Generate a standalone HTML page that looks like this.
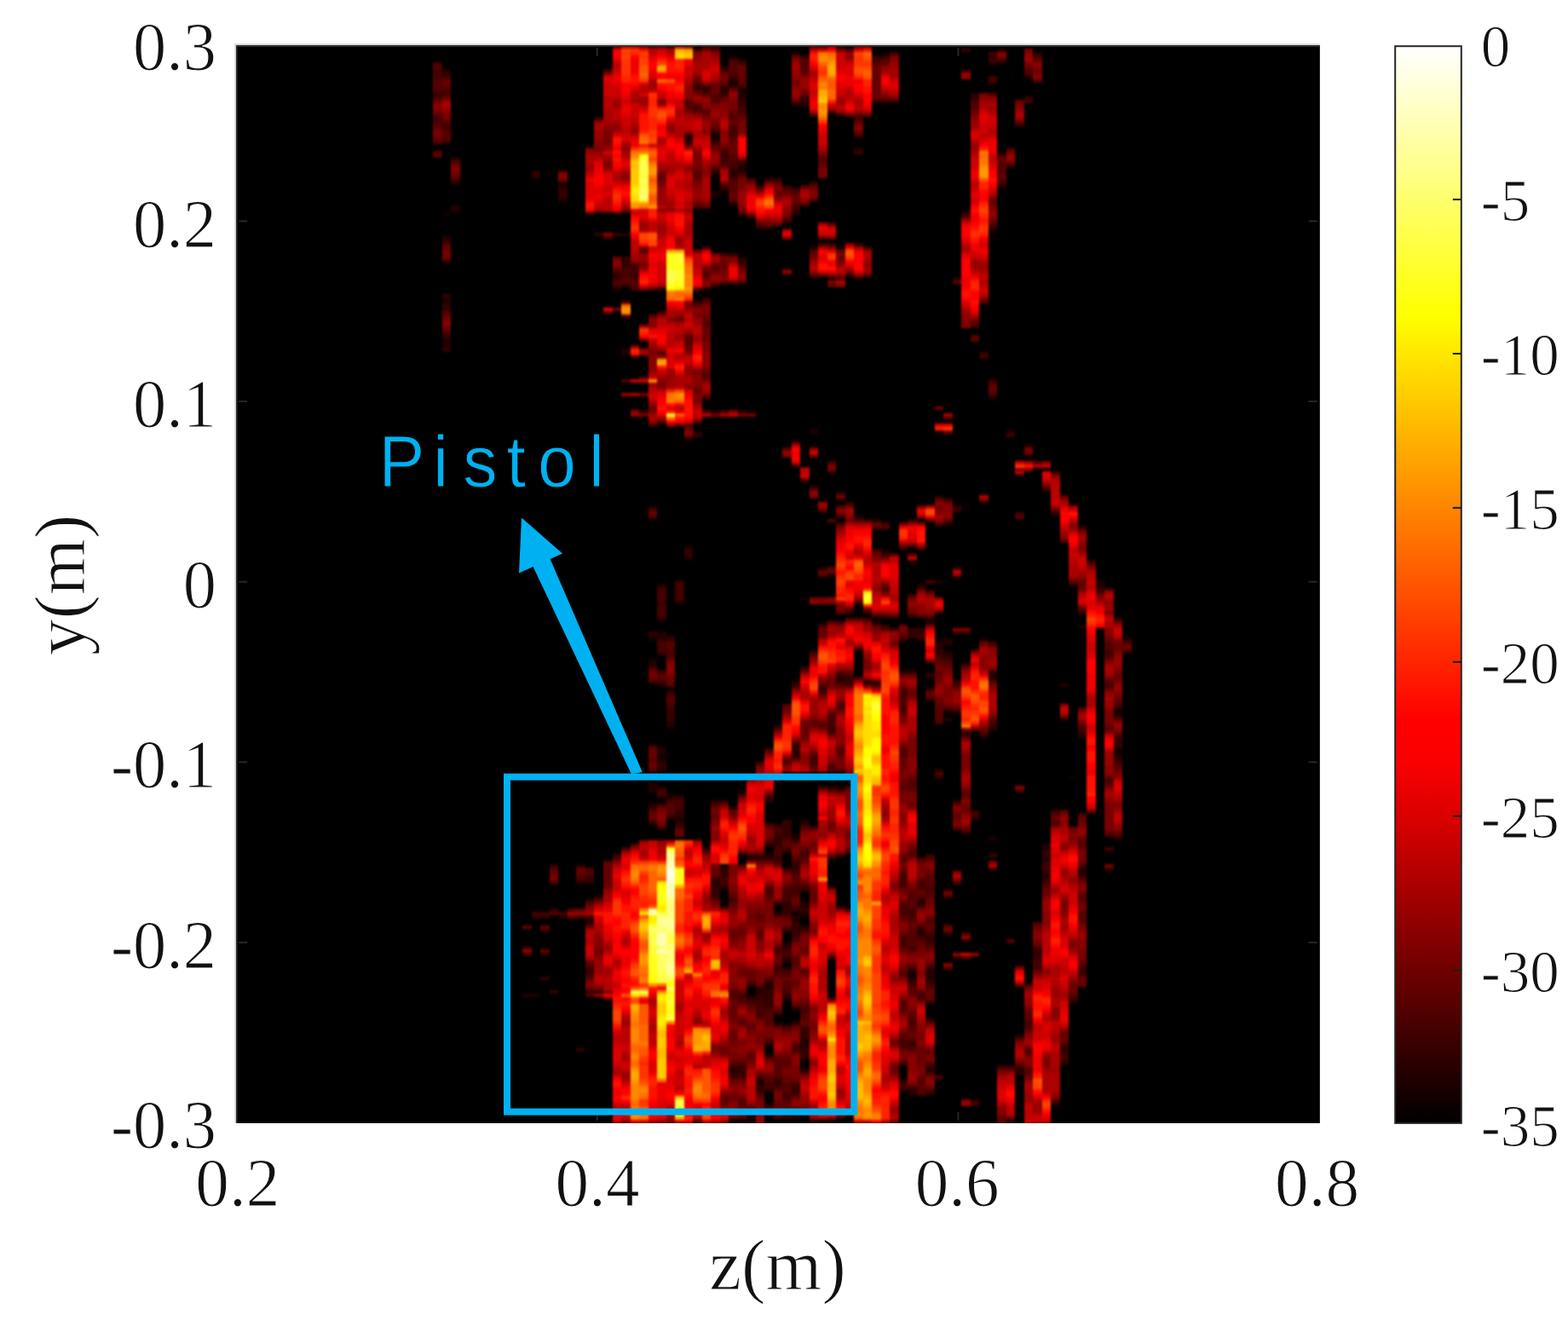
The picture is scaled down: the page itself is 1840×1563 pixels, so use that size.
<!DOCTYPE html>
<html lang="en"><head><meta charset="utf-8"><title>Pistol radar image</title>
<style>html,body{margin:0;padding:0;background:#fff;overflow:hidden}svg{display:block}</style></head>
<body>
<svg width="1840" height="1563" viewBox="0 0 1840 1563">
<rect width="1840" height="1563" fill="#fff"/>
<rect x="277.2" y="53.0" width="1271.3999999999999" height="1264.9" fill="#000"/>
<defs><filter id="hb" x="0" y="0" width="1" height="1" filterUnits="objectBoundingBox" color-interpolation-filters="sRGB"><feGaussianBlur stdDeviation="1.1 1.8"/></filter><clipPath id="pc"><rect x="277.2" y="53.0" width="1271.3999999999999" height="1264.9"/></clipPath></defs>
<g clip-path="url(#pc)"><g filter="url(#hb)"><rect x="257.2" y="33.0" width="1311.3999999999999" height="1304.9" fill="#000"/><g transform="translate(277.2 53.0) scale(10.50744 4.00285)" shape-rendering="crispEdges">
<path fill="#110000" d="M23 49h1v1h-1zM46 174h1v1h-1zM46 228h1v1h-1zM47 205h1v1h-1zM47 208h1v1h-1zM48 219h1v1h-1zM53 26h1v2h-1zM53 44h1v1h-1zM54 247h1v1h-1zM55 3h1v1h-1zM55 11h1v1h-1zM56 13h1v1h-1zM56 218h1v1h-1zM57 107h1v1h-1zM57 278h1v1h-1zM57 313h1v1h-1zM57 315h1v1h-1zM59 293h1v1h-1zM60 284h1v1h-1zM60 286h1v1h-1zM62 231h1v1h-1zM62 254h1v1h-1zM63 123h1v1h-1zM63 162h1v1h-1zM63 255h1v1h-1zM63 297h1v1h-1zM64 68h1v1h-1zM64 112h1v1h-1zM65 169h1v1h-1zM67 217h1v1h-1zM72 2h1v1h-1zM75 147h1v1h-1zM75 272h1v1h-1zM77 185h1v1h-1zM78 174h1v1h-1zM79 177h1v1h-1zM79 195h1v1h-1zM79 257h1v1h-1zM81 48h1v1h-1zM81 135h1v1h-1zM84 11h1v1h-1zM85 31h1v1h-1zM86 263h1v1h-1zM87 269h1v1h-1zM93 214h1v1h-1zM97 236h1v1h-1zM98 195h1v1h-1zM98 206h1v2h-1z"/>
<path fill="#220000" d="M23 7h1v1h-1zM23 56h1v1h-1zM23 74h1v2h-1zM23 86h1v3h-1zM24 40h1v1h-1zM24 47h1v2h-1zM32 278h1v1h-1zM33 278h1v1h-1zM34 266h1v1h-1zM36 40h1v2h-1zM36 45h1v1h-1zM36 255h1v1h-1zM38 240h1v1h-1zM38 245h1v1h-1zM39 245h1v1h-1zM39 250h1v1h-1zM39 256h1v1h-1zM40 249h1v1h-1zM42 49h1v1h-1zM42 71h1v1h-1zM43 55h1v1h-1zM43 89h1v2h-1zM46 135h1v1h-1zM46 173h1v1h-1zM46 180h1v2h-1zM46 216h1v3h-1zM46 222h1v1h-1zM47 158h1v1h-1zM47 168h1v1h-1zM47 172h1v2h-1zM47 178h1v1h-1zM47 187h1v1h-1zM47 206h1v2h-1zM47 209h1v1h-1zM47 212h1v1h-1zM47 217h1v1h-1zM47 220h1v1h-1zM48 173h1v1h-1zM48 198h1v2h-1zM48 220h1v1h-1zM48 226h1v1h-1zM49 163h1v1h-1zM49 226h1v2h-1zM50 26h1v2h-1zM50 115h1v1h-1zM50 147h1v1h-1zM50 150h1v1h-1zM51 113h1v1h-1zM52 71h1v1h-1zM52 235h1v1h-1zM53 37h1v1h-1zM53 43h1v1h-1zM53 107h1v1h-1zM53 221h1v1h-1zM53 245h1v2h-1zM54 6h1v1h-1zM54 13h1v1h-1zM54 42h1v1h-1zM54 221h1v1h-1zM54 252h1v1h-1zM55 10h1v1h-1zM55 37h1v1h-1zM55 46h1v1h-1zM55 223h1v1h-1zM55 300h1v1h-1zM56 4h1v1h-1zM56 14h1v2h-1zM56 35h1v2h-1zM56 62h1v1h-1zM56 107h1v1h-1zM57 238h1v1h-1zM57 312h1v1h-1zM57 314h1v1h-1zM58 277h1v1h-1zM58 303h1v2h-1zM59 221h1v1h-1zM59 234h1v1h-1zM59 237h1v1h-1zM59 275h1v2h-1zM59 306h1v1h-1zM59 310h1v1h-1zM60 199h1v1h-1zM60 228h1v1h-1zM60 254h1v1h-1zM61 65h1v1h-1zM61 67h1v1h-1zM61 236h1v1h-1zM61 263h1v1h-1zM61 268h1v1h-1zM61 270h1v1h-1zM61 279h1v1h-1zM61 314h1v1h-1zM62 2h1v1h-1zM62 17h1v1h-1zM62 49h1v1h-1zM62 186h1v1h-1zM62 207h1v1h-1zM62 232h1v1h-1zM62 255h1v2h-1zM62 282h1v1h-1zM62 286h1v1h-1zM62 314h1v1h-1zM63 17h1v1h-1zM63 227h1v1h-1zM63 251h1v2h-1zM63 254h1v1h-1zM63 258h1v1h-1zM63 291h1v3h-1zM63 300h1v1h-1zM64 59h1v1h-1zM64 113h1v1h-1zM64 129h1v1h-1zM64 177h1v1h-1zM64 315h1v1h-1zM65 153h1v1h-1zM66 68h1v1h-1zM66 125h1v1h-1zM66 155h1v1h-1zM66 217h1v1h-1zM66 238h1v1h-1zM67 0h1v1h-1zM67 59h1v1h-1zM67 133h1v1h-1zM67 185h1v1h-1zM67 252h1v1h-1zM67 314h1v1h-1zM68 166h1v1h-1zM69 30h1v1h-1zM69 68h1v1h-1zM69 138h1v1h-1zM70 186h1v1h-1zM71 139h1v1h-1zM71 169h1v1h-1zM72 148h1v1h-1zM74 183h1v1h-1zM74 303h1v1h-1zM74 306h1v1h-1zM75 151h1v1h-1zM75 183h1v1h-1zM75 271h1v1h-1zM75 273h1v1h-1zM75 306h1v2h-1zM76 158h1v1h-1zM76 174h1v1h-1zM76 251h1v1h-1zM76 259h1v2h-1zM77 168h1v2h-1zM77 188h1v1h-1zM77 271h1v3h-1zM77 285h1v1h-1zM77 300h1v1h-1zM77 307h1v1h-1zM78 113h1v1h-1zM78 132h1v1h-1zM78 157h1v1h-1zM78 175h1v2h-1zM78 212h1v1h-1zM79 140h1v1h-1zM79 174h1v2h-1zM79 178h1v1h-1zM79 197h1v1h-1zM79 247h1v1h-1zM79 260h1v1h-1zM80 68h1v1h-1zM80 195h1v1h-1zM80 221h1v1h-1zM80 267h1v1h-1zM81 172h1v1h-1zM81 201h1v1h-1zM81 262h1v1h-1zM82 14h1v1h-1zM83 174h1v1h-1zM83 202h1v1h-1zM84 5h1v1h-1zM84 54h1v1h-1zM84 103h1v1h-1zM84 184h1v2h-1zM84 200h1v1h-1zM84 232h1v1h-1zM85 1h1v1h-1zM85 41h1v1h-1zM86 113h1v1h-1zM86 315h1v1h-1zM87 290h1v1h-1zM87 300h1v2h-1zM88 9h1v1h-1zM88 117h1v1h-1zM88 120h1v1h-1zM89 2h1v1h-1zM90 234h1v2h-1zM90 238h1v1h-1zM90 243h1v1h-1zM91 137h1v1h-1zM91 310h1v1h-1zM92 187h1v1h-1zM92 197h1v1h-1zM92 298h1v1h-1zM93 158h1v1h-1zM93 280h1v1h-1zM94 170h1v1h-1zM94 202h1v1h-1zM94 241h1v2h-1zM96 157h1v2h-1zM98 194h1v1h-1zM98 196h1v1h-1zM98 208h1v1h-1zM98 232h1v1h-1z"/>
<path fill="#330000" d="M22 14h1v1h-1zM23 8h1v1h-1zM23 28h1v1h-1zM23 57h1v1h-1zM23 63h1v1h-1zM23 73h1v1h-1zM23 76h1v2h-1zM23 85h1v1h-1zM23 89h1v1h-1zM24 33h1v1h-1zM32 264h1v1h-1zM32 266h1v1h-1zM33 37h1v2h-1zM33 255h1v1h-1zM34 255h1v1h-1zM34 259h1v1h-1zM34 273h1v1h-1zM35 240h1v1h-1zM35 253h1v1h-1zM35 277h1v1h-1zM36 42h1v3h-1zM38 294h1v1h-1zM39 49h1v1h-1zM39 244h1v1h-1zM39 257h1v1h-1zM39 271h1v1h-1zM39 277h1v1h-1zM40 21h1v1h-1zM40 55h1v1h-1zM40 277h1v1h-1zM42 55h1v1h-1zM42 67h1v2h-1zM42 237h1v1h-1zM43 62h1v3h-1zM43 70h1v1h-1zM44 67h1v1h-1zM45 107h1v1h-1zM46 172h1v1h-1zM46 223h1v1h-1zM47 71h1v1h-1zM47 163h1v1h-1zM47 174h1v1h-1zM47 183h1v1h-1zM47 210h1v2h-1zM47 222h1v1h-1zM47 229h1v1h-1zM48 0h1v1h-1zM48 174h1v1h-1zM48 189h1v1h-1zM48 194h1v4h-1zM49 157h1v1h-1zM49 220h1v1h-1zM49 224h1v2h-1zM49 228h1v1h-1zM50 28h1v1h-1zM50 148h1v2h-1zM51 12h1v1h-1zM51 75h1v1h-1zM51 114h1v1h-1zM52 0h1v1h-1zM52 12h1v2h-1zM52 74h1v1h-1zM52 103h1v1h-1zM53 0h1v1h-1zM53 25h1v1h-1zM53 28h1v1h-1zM53 70h1v1h-1zM53 244h1v1h-1zM53 247h1v3h-1zM54 12h1v1h-1zM54 14h1v1h-1zM54 32h1v1h-1zM54 241h1v3h-1zM54 246h1v1h-1zM55 9h1v1h-1zM55 36h1v1h-1zM55 38h1v1h-1zM55 61h1v1h-1zM55 299h1v1h-1zM55 301h1v1h-1zM56 12h1v1h-1zM56 16h1v2h-1zM56 34h1v1h-1zM56 37h1v1h-1zM56 63h1v1h-1zM56 219h1v1h-1zM56 299h1v3h-1zM57 50h1v1h-1zM57 237h1v1h-1zM57 275h1v1h-1zM57 279h1v1h-1zM58 41h1v1h-1zM58 53h1v1h-1zM58 237h1v2h-1zM58 276h1v1h-1zM58 278h1v2h-1zM58 305h1v2h-1zM59 39h1v1h-1zM59 53h1v1h-1zM59 220h1v1h-1zM59 238h1v1h-1zM59 274h1v1h-1zM59 277h1v5h-1zM59 292h1v1h-1zM59 296h1v1h-1zM59 313h1v1h-1zM60 39h1v1h-1zM60 215h1v1h-1zM60 232h1v3h-1zM60 238h1v1h-1zM60 251h1v1h-1zM60 270h1v1h-1zM60 303h1v2h-1zM60 314h1v1h-1zM61 41h1v1h-1zM61 227h1v5h-1zM61 241h1v1h-1zM61 251h1v4h-1zM61 259h1v1h-1zM61 264h1v1h-1zM61 267h1v1h-1zM61 278h1v1h-1zM61 287h1v1h-1zM62 48h1v1h-1zM62 123h1v1h-1zM62 187h1v1h-1zM62 205h1v2h-1zM62 208h1v1h-1zM62 239h1v3h-1zM62 253h1v1h-1zM62 257h1v4h-1zM62 305h1v2h-1zM62 312h1v2h-1zM63 3h1v1h-1zM63 15h1v2h-1zM63 182h1v1h-1zM63 228h1v1h-1zM63 247h1v1h-1zM63 253h1v1h-1zM63 288h1v3h-1zM63 294h1v3h-1zM64 40h1v1h-1zM65 188h1v1h-1zM65 217h1v1h-1zM66 58h1v1h-1zM66 200h1v1h-1zM66 267h1v1h-1zM66 279h1v1h-1zM67 20h1v1h-1zM67 131h1v1h-1zM67 138h1v1h-1zM67 184h1v1h-1zM67 186h1v1h-1zM67 237h1v1h-1zM68 67h1v1h-1zM68 134h1v1h-1zM68 185h1v2h-1zM68 214h1v1h-1zM69 31h1v1h-1zM69 58h1v1h-1zM70 166h1v1h-1zM71 3h1v1h-1zM71 16h1v1h-1zM71 187h1v1h-1zM72 3h1v1h-1zM72 16h1v1h-1zM72 149h1v1h-1zM72 170h1v1h-1zM73 16h1v1h-1zM74 174h1v1h-1zM75 139h1v1h-1zM75 167h1v1h-1zM75 171h1v3h-1zM75 274h1v1h-1zM75 292h1v1h-1zM76 171h1v2h-1zM76 250h1v1h-1zM77 184h1v1h-1zM77 237h1v1h-1zM77 261h1v2h-1zM77 270h1v1h-1zM77 274h1v1h-1zM77 280h1v1h-1zM77 299h1v1h-1zM78 166h1v1h-1zM78 177h1v2h-1zM78 214h1v1h-1zM79 179h1v1h-1zM80 135h1v2h-1zM80 153h1v1h-1zM80 172h1v1h-1zM80 186h1v1h-1zM81 1h1v1h-1zM81 7h1v1h-1zM81 49h1v1h-1zM81 181h1v1h-1zM82 15h1v1h-1zM82 224h1v1h-1zM82 226h1v1h-1zM82 309h1v1h-1zM83 90h1v1h-1zM84 3h1v1h-1zM84 53h1v1h-1zM84 98h1v1h-1zM84 183h1v1h-1zM84 199h1v1h-1zM84 241h1v1h-1zM85 299h1v1h-1zM86 35h1v1h-1zM86 299h1v1h-1zM87 23h1v1h-1zM88 15h1v1h-1zM89 265h1v3h-1zM90 130h1v1h-1zM90 236h1v2h-1zM90 239h1v1h-1zM90 242h1v1h-1zM90 244h1v1h-1zM91 224h1v1h-1zM92 293h1v3h-1zM92 297h1v1h-1zM94 141h1v1h-1zM94 166h1v1h-1zM94 201h1v1h-1zM94 243h1v1h-1zM94 271h1v1h-1zM95 151h1v1h-1zM96 159h1v1h-1zM97 159h1v1h-1zM97 241h1v1h-1zM98 168h1v1h-1zM98 203h1v3h-1zM98 209h1v1h-1zM99 174h1v1h-1z"/>
<path fill="#440000" d="M22 5h1v1h-1zM22 7h1v3h-1zM22 13h1v1h-1zM22 15h1v1h-1zM22 21h1v2h-1zM23 9h1v1h-1zM23 13h1v2h-1zM23 23h1v2h-1zM23 84h1v1h-1zM24 39h1v1h-1zM33 254h1v1h-1zM34 254h1v1h-1zM35 245h1v1h-1zM36 254h1v1h-1zM38 244h1v1h-1zM38 255h1v1h-1zM39 241h1v1h-1zM39 243h1v1h-1zM39 255h1v1h-1zM39 270h1v1h-1zM39 272h1v1h-1zM41 7h1v1h-1zM41 56h1v1h-1zM42 66h1v1h-1zM42 70h1v1h-1zM43 65h1v3h-1zM43 235h1v1h-1zM44 64h1v3h-1zM44 68h1v1h-1zM44 71h1v1h-1zM44 91h1v1h-1zM45 97h1v1h-1zM46 0h1v1h-1zM46 111h1v1h-1zM46 138h1v1h-1zM46 182h1v1h-1zM46 186h1v1h-1zM46 205h1v1h-1zM46 227h1v1h-1zM47 78h1v1h-1zM47 159h1v4h-1zM47 164h1v4h-1zM47 175h1v3h-1zM47 186h1v1h-1zM47 218h1v2h-1zM48 177h1v2h-1zM48 190h1v1h-1zM48 193h1v1h-1zM48 221h1v1h-1zM48 225h1v1h-1zM49 158h1v5h-1zM49 221h1v3h-1zM50 16h1v1h-1zM51 1h1v1h-1zM51 11h1v1h-1zM51 18h1v1h-1zM51 47h1v1h-1zM51 315h1v1h-1zM52 59h1v1h-1zM52 107h1v1h-1zM53 36h1v1h-1zM53 222h1v1h-1zM54 7h1v1h-1zM54 31h1v1h-1zM54 33h1v2h-1zM54 41h1v1h-1zM54 61h1v1h-1zM54 107h1v1h-1zM54 244h1v2h-1zM55 4h1v1h-1zM55 12h1v1h-1zM55 24h1v3h-1zM55 34h1v2h-1zM55 39h1v1h-1zM55 250h1v1h-1zM55 302h1v1h-1zM56 5h1v1h-1zM56 18h1v2h-1zM56 49h1v1h-1zM56 64h1v1h-1zM56 278h1v2h-1zM56 302h1v1h-1zM56 314h1v1h-1zM57 39h1v1h-1zM57 280h1v1h-1zM58 210h1v1h-1zM58 280h1v5h-1zM58 302h1v1h-1zM58 307h1v1h-1zM59 206h1v1h-1zM59 228h1v1h-1zM59 233h1v1h-1zM59 247h1v2h-1zM59 282h1v1h-1zM59 304h1v2h-1zM59 311h1v1h-1zM60 229h1v3h-1zM60 235h1v3h-1zM60 239h1v1h-1zM60 265h1v1h-1zM60 271h1v1h-1zM60 283h1v1h-1zM60 287h1v1h-1zM60 305h1v1h-1zM61 51h1v1h-1zM61 232h1v1h-1zM61 235h1v1h-1zM61 247h1v4h-1zM61 265h1v2h-1zM61 271h1v1h-1zM61 277h1v1h-1zM61 307h1v2h-1zM61 313h1v1h-1zM62 42h1v1h-1zM62 47h1v1h-1zM62 116h1v1h-1zM62 204h1v1h-1zM62 233h1v1h-1zM62 242h1v1h-1zM62 246h1v3h-1zM62 252h1v1h-1zM62 261h1v1h-1zM62 293h1v2h-1zM62 304h1v1h-1zM62 307h1v1h-1zM63 236h1v2h-1zM63 246h1v1h-1zM63 259h1v1h-1zM63 282h1v2h-1zM63 313h1v1h-1zM64 45h1v1h-1zM64 208h1v3h-1zM64 229h1v1h-1zM65 58h1v1h-1zM65 170h1v1h-1zM65 189h1v1h-1zM66 122h1v1h-1zM66 196h1v4h-1zM66 201h1v1h-1zM66 211h1v1h-1zM67 68h1v1h-1zM67 140h1v1h-1zM67 193h1v1h-1zM67 218h1v1h-1zM68 184h1v1h-1zM68 187h1v1h-1zM68 217h1v1h-1zM68 236h1v1h-1zM68 253h1v1h-1zM69 21h1v1h-1zM69 26h1v1h-1zM69 163h1v1h-1zM69 185h1v1h-1zM70 59h1v1h-1zM70 139h1v1h-1zM70 168h1v1h-1zM70 187h1v1h-1zM71 4h1v1h-1zM71 167h1v1h-1zM71 186h1v1h-1zM72 140h1v1h-1zM72 159h1v1h-1zM72 167h1v1h-1zM73 2h1v1h-1zM73 171h1v1h-1zM74 147h1v1h-1zM74 189h1v3h-1zM74 193h1v2h-1zM74 243h1v4h-1zM74 252h1v3h-1zM74 261h1v3h-1zM74 291h1v3h-1zM74 298h1v1h-1zM74 304h1v2h-1zM75 161h1v1h-1zM75 253h1v3h-1zM75 264h1v1h-1zM75 270h1v1h-1zM75 275h1v1h-1zM75 286h1v1h-1zM75 293h1v1h-1zM75 305h1v1h-1zM76 159h1v1h-1zM76 173h1v1h-1zM76 238h1v1h-1zM76 245h1v2h-1zM76 252h1v1h-1zM76 258h1v1h-1zM76 261h1v1h-1zM76 278h1v2h-1zM76 307h1v1h-1zM77 139h1v1h-1zM77 157h1v1h-1zM77 191h1v1h-1zM77 247h1v1h-1zM77 260h1v1h-1zM77 263h1v1h-1zM77 275h1v1h-1zM77 301h1v1h-1zM77 306h1v1h-1zM78 179h1v1h-1zM78 198h1v1h-1zM79 109h1v1h-1zM79 133h1v1h-1zM79 180h1v1h-1zM79 194h1v1h-1zM79 249h1v1h-1zM80 187h1v1h-1zM80 245h1v1h-1zM81 202h1v1h-1zM81 230h1v1h-1zM81 260h1v1h-1zM81 267h1v1h-1zM82 16h1v1h-1zM82 82h1v1h-1zM82 225h1v1h-1zM82 310h1v1h-1zM83 75h1v1h-1zM83 91h1v1h-1zM83 201h1v1h-1zM84 2h1v1h-1zM84 4h1v1h-1zM84 9h1v2h-1zM84 102h1v1h-1zM84 175h1v1h-1zM84 198h1v1h-1zM84 237h1v1h-1zM85 4h1v1h-1zM85 32h1v1h-1zM85 40h1v1h-1zM86 30h1v1h-1zM86 114h1v1h-1zM87 137h1v1h-1zM87 218h1v1h-1zM87 299h1v1h-1zM88 8h1v1h-1zM88 16h1v1h-1zM88 275h1v1h-1zM88 286h1v2h-1zM89 3h1v1h-1zM89 264h1v1h-1zM89 268h1v3h-1zM90 240h1v2h-1zM90 245h1v1h-1zM91 125h1v1h-1zM91 309h1v1h-1zM92 296h1v1h-1zM93 279h1v1h-1zM94 200h1v1h-1zM94 225h1v1h-1zM94 240h1v1h-1zM94 270h1v1h-1zM94 272h1v1h-1zM96 160h1v1h-1zM97 177h1v2h-1zM97 187h1v1h-1zM97 215h1v1h-1zM97 231h1v1h-1zM97 235h1v1h-1zM98 193h1v1h-1zM98 202h1v1h-1zM98 210h1v1h-1zM99 177h1v1h-1z"/>
<path fill="#550000" d="M22 6h1v1h-1zM22 10h1v3h-1zM22 20h1v1h-1zM22 23h1v1h-1zM22 28h1v1h-1zM22 31h1v2h-1zM23 12h1v1h-1zM23 22h1v1h-1zM23 25h1v3h-1zM23 58h1v1h-1zM23 78h1v1h-1zM24 34h1v1h-1zM35 241h1v1h-1zM35 254h1v1h-1zM37 253h1v1h-1zM38 243h1v1h-1zM39 242h1v1h-1zM39 251h1v1h-1zM39 269h1v1h-1zM39 273h1v1h-1zM39 278h1v1h-1zM40 250h1v1h-1zM41 78h1v1h-1zM41 239h1v1h-1zM41 279h1v1h-1zM42 0h1v1h-1zM42 69h1v1h-1zM42 238h1v1h-1zM43 68h1v2h-1zM43 75h1v1h-1zM43 79h1v1h-1zM43 98h1v1h-1zM44 69h1v2h-1zM44 234h1v1h-1zM46 71h1v1h-1zM46 79h1v1h-1zM46 136h1v1h-1zM46 209h1v1h-1zM46 212h1v1h-1zM46 224h1v1h-1zM47 90h1v1h-1zM47 110h1v1h-1zM47 184h1v2h-1zM48 175h1v2h-1zM48 179h1v1h-1zM48 187h1v1h-1zM48 191h1v2h-1zM48 222h1v3h-1zM49 111h1v1h-1zM49 229h1v1h-1zM50 17h1v2h-1zM50 29h1v1h-1zM50 85h1v3h-1zM50 111h1v1h-1zM51 13h1v1h-1zM51 17h1v1h-1zM51 19h1v1h-1zM51 37h1v2h-1zM51 110h1v1h-1zM52 14h1v1h-1zM52 19h1v1h-1zM52 47h1v1h-1zM52 66h1v2h-1zM52 75h1v1h-1zM52 81h1v2h-1zM52 96h1v2h-1zM52 236h1v1h-1zM53 1h1v1h-1zM53 14h1v3h-1zM53 24h1v1h-1zM53 29h1v1h-1zM53 65h1v1h-1zM53 243h1v1h-1zM53 250h1v1h-1zM54 11h1v1h-1zM54 15h1v1h-1zM54 30h1v1h-1zM54 35h1v1h-1zM54 309h1v1h-1zM55 5h1v4h-1zM55 20h1v2h-1zM55 23h1v1h-1zM55 27h1v1h-1zM55 32h1v2h-1zM55 40h1v3h-1zM55 45h1v1h-1zM55 249h1v1h-1zM55 251h1v1h-1zM55 277h1v3h-1zM55 298h1v1h-1zM55 314h1v1h-1zM56 10h1v2h-1zM56 20h1v1h-1zM56 38h1v1h-1zM56 69h1v1h-1zM56 240h1v1h-1zM56 280h1v1h-1zM56 286h1v1h-1zM56 298h1v1h-1zM56 309h1v2h-1zM57 274h1v1h-1zM57 281h1v1h-1zM57 287h1v1h-1zM57 296h1v1h-1zM57 311h1v1h-1zM58 52h1v1h-1zM58 255h1v1h-1zM58 260h1v1h-1zM58 275h1v1h-1zM59 249h1v1h-1zM59 273h1v1h-1zM59 283h1v4h-1zM59 291h1v1h-1zM59 302h1v2h-1zM59 312h1v1h-1zM60 40h1v1h-1zM60 200h1v1h-1zM60 255h1v1h-1zM60 264h1v1h-1zM60 266h1v1h-1zM60 269h1v1h-1zM60 272h1v1h-1zM60 297h1v6h-1zM61 42h1v1h-1zM61 118h1v1h-1zM61 193h1v1h-1zM61 209h1v2h-1zM61 233h1v2h-1zM61 246h1v1h-1zM61 255h1v1h-1zM61 258h1v1h-1zM61 272h1v1h-1zM61 274h1v3h-1zM61 288h1v1h-1zM61 297h1v2h-1zM61 304h1v3h-1zM61 309h1v1h-1zM61 311h1v2h-1zM62 16h1v1h-1zM62 43h1v1h-1zM62 46h1v1h-1zM62 238h1v1h-1zM62 243h1v3h-1zM62 249h1v1h-1zM62 262h1v1h-1zM62 267h1v3h-1zM62 281h1v1h-1zM62 287h1v1h-1zM63 4h1v4h-1zM63 41h1v1h-1zM63 127h1v1h-1zM63 229h1v1h-1zM63 235h1v1h-1zM63 238h1v1h-1zM63 271h1v1h-1zM63 281h1v1h-1zM63 284h1v2h-1zM63 287h1v1h-1zM63 301h1v1h-1zM63 312h1v1h-1zM64 0h1v1h-1zM64 20h1v1h-1zM64 60h1v1h-1zM64 67h1v1h-1zM64 178h1v1h-1zM64 198h1v1h-1zM64 211h1v1h-1zM65 0h1v1h-1zM65 33h1v2h-1zM65 67h1v1h-1zM65 136h1v1h-1zM65 155h1v1h-1zM65 187h1v1h-1zM65 199h1v1h-1zM66 19h1v1h-1zM66 52h1v1h-1zM66 139h1v1h-1zM66 153h1v1h-1zM66 212h1v1h-1zM66 218h1v1h-1zM67 135h1v1h-1zM67 166h1v1h-1zM67 169h1v1h-1zM67 187h1v1h-1zM67 194h1v1h-1zM67 206h1v2h-1zM67 212h1v1h-1zM68 1h1v1h-1zM68 165h1v1h-1zM68 168h1v1h-1zM68 313h1v1h-1zM69 20h1v1h-1zM69 22h1v1h-1zM69 139h1v1h-1zM69 168h1v1h-1zM70 67h1v1h-1zM71 5h1v1h-1zM71 141h1v1h-1zM71 148h1v1h-1zM71 170h1v1h-1zM72 4h1v1h-1zM72 141h1v1h-1zM72 171h1v1h-1zM73 149h1v1h-1zM73 167h1v1h-1zM74 173h1v1h-1zM74 184h1v1h-1zM74 188h1v1h-1zM74 192h1v1h-1zM74 195h1v1h-1zM74 206h1v3h-1zM74 217h1v1h-1zM74 238h1v1h-1zM74 242h1v1h-1zM74 251h1v1h-1zM74 255h1v1h-1zM74 264h1v1h-1zM74 271h1v2h-1zM74 280h1v3h-1zM74 290h1v1h-1zM75 149h1v1h-1zM75 184h1v1h-1zM75 215h1v3h-1zM75 236h1v2h-1zM75 248h1v5h-1zM75 256h1v1h-1zM75 259h1v5h-1zM75 265h1v1h-1zM75 276h1v2h-1zM75 284h1v2h-1zM75 287h1v2h-1zM75 291h1v1h-1zM75 294h1v1h-1zM76 167h1v1h-1zM76 244h1v1h-1zM76 247h1v1h-1zM76 249h1v1h-1zM76 262h1v1h-1zM76 277h1v1h-1zM76 303h1v4h-1zM77 160h1v1h-1zM77 167h1v1h-1zM77 189h1v1h-1zM77 238h1v1h-1zM77 243h1v4h-1zM77 248h1v2h-1zM77 256h1v2h-1zM77 259h1v1h-1zM77 264h1v1h-1zM77 269h1v1h-1zM77 276h1v1h-1zM77 286h1v1h-1zM77 298h1v1h-1zM78 140h1v1h-1zM78 180h1v1h-1zM78 193h1v5h-1zM78 213h1v1h-1zM78 302h1v1h-1zM79 139h1v1h-1zM79 181h1v1h-1zM79 270h1v1h-1zM80 194h1v1h-1zM80 222h1v1h-1zM80 229h1v1h-1zM81 50h1v1h-1zM81 219h1v1h-1zM82 17h1v2h-1zM82 81h1v1h-1zM82 85h1v2h-1zM82 177h1v1h-1zM84 14h1v1h-1zM84 52h1v1h-1zM84 99h1v1h-1zM84 186h1v1h-1zM84 197h1v1h-1zM85 34h1v4h-1zM85 39h1v1h-1zM85 315h1v1h-1zM86 262h1v1h-1zM87 138h1v1h-1zM87 291h1v1h-1zM88 7h1v1h-1zM88 284h1v2h-1zM88 288h1v1h-1zM88 294h1v2h-1zM88 300h1v2h-1zM89 10h1v1h-1zM89 122h1v1h-1zM89 257h1v1h-1zM90 246h1v1h-1zM91 136h1v1h-1zM91 225h1v1h-1zM91 227h1v2h-1zM92 132h1v1h-1zM92 145h1v1h-1zM92 224h1v1h-1zM92 292h1v1h-1zM93 157h1v1h-1zM93 278h1v1h-1zM94 165h1v1h-1zM94 194h1v1h-1zM94 199h1v1h-1zM94 233h1v2h-1zM94 244h1v1h-1zM94 249h1v2h-1zM94 254h1v3h-1zM94 269h1v1h-1zM97 175h1v2h-1zM97 179h1v1h-1zM97 186h1v1h-1zM97 188h1v1h-1zM97 200h1v1h-1zM97 216h1v1h-1zM98 192h1v1h-1zM98 197h1v1h-1zM98 211h1v1h-1zM98 231h1v1h-1zM99 175h1v1h-1z"/>
<path fill="#660000" d="M22 16h1v1h-1zM22 24h1v1h-1zM22 27h1v1h-1zM23 10h1v2h-1zM23 15h1v1h-1zM23 59h1v1h-1zM23 62h1v1h-1zM23 79h1v1h-1zM23 83h1v1h-1zM24 38h1v1h-1zM32 258h1v1h-1zM34 258h1v1h-1zM34 265h1v1h-1zM35 242h1v1h-1zM37 255h1v1h-1zM38 241h1v2h-1zM38 253h1v1h-1zM39 258h1v1h-1zM39 276h1v1h-1zM40 265h1v1h-1zM41 240h1v7h-1zM42 62h1v1h-1zM42 65h1v1h-1zM45 59h1v2h-1zM45 86h1v1h-1zM46 106h1v1h-1zM46 137h1v1h-1zM46 183h1v1h-1zM46 185h1v1h-1zM46 206h1v3h-1zM46 210h1v2h-1zM46 225h1v2h-1zM47 0h1v1h-1zM47 38h1v2h-1zM47 223h1v1h-1zM47 228h1v1h-1zM48 185h1v2h-1zM49 80h1v1h-1zM49 230h1v2h-1zM50 88h1v2h-1zM50 112h1v1h-1zM51 10h1v1h-1zM51 36h1v1h-1zM51 39h1v1h-1zM51 46h1v1h-1zM51 71h1v1h-1zM51 76h1v1h-1zM51 101h1v1h-1zM52 20h1v1h-1zM52 68h1v1h-1zM52 79h1v2h-1zM52 83h1v4h-1zM52 95h1v1h-1zM53 11h1v3h-1zM53 23h1v1h-1zM53 30h1v1h-1zM53 35h1v1h-1zM53 64h1v1h-1zM53 66h1v1h-1zM53 223h1v1h-1zM53 225h1v2h-1zM53 240h1v3h-1zM54 8h1v1h-1zM54 10h1v1h-1zM54 40h1v1h-1zM54 63h1v3h-1zM54 69h1v1h-1zM54 222h1v1h-1zM54 294h1v2h-1zM54 308h1v1h-1zM54 310h1v1h-1zM55 19h1v1h-1zM55 22h1v1h-1zM55 28h1v4h-1zM55 43h1v2h-1zM55 69h1v1h-1zM55 224h1v2h-1zM55 248h1v1h-1zM55 252h1v1h-1zM55 259h1v3h-1zM55 276h1v1h-1zM55 280h1v6h-1zM55 289h1v3h-1zM55 297h1v1h-1zM55 303h1v1h-1zM55 308h1v1h-1zM56 6h1v4h-1zM56 21h1v1h-1zM56 33h1v1h-1zM56 65h1v1h-1zM56 220h1v1h-1zM56 236h1v1h-1zM56 259h1v2h-1zM56 271h1v2h-1zM56 277h1v1h-1zM56 285h1v1h-1zM56 297h1v1h-1zM56 303h1v1h-1zM56 308h1v1h-1zM56 311h1v3h-1zM57 255h1v1h-1zM57 271h1v3h-1zM57 282h1v1h-1zM57 288h1v1h-1zM57 295h1v1h-1zM57 297h1v1h-1zM58 42h1v1h-1zM58 239h1v1h-1zM58 254h1v1h-1zM58 256h1v1h-1zM58 259h1v1h-1zM58 261h1v1h-1zM58 285h1v1h-1zM58 301h1v1h-1zM58 308h1v1h-1zM59 52h1v1h-1zM59 219h1v1h-1zM59 229h1v1h-1zM59 232h1v1h-1zM59 239h1v1h-1zM59 246h1v1h-1zM59 250h1v1h-1zM59 287h1v1h-1zM59 297h1v1h-1zM60 43h1v1h-1zM60 52h1v1h-1zM60 240h1v1h-1zM60 267h1v2h-1zM60 273h1v1h-1zM60 282h1v1h-1zM60 296h1v1h-1zM60 306h1v1h-1zM60 309h1v5h-1zM61 43h1v1h-1zM61 50h1v1h-1zM61 194h1v1h-1zM61 242h1v1h-1zM61 256h1v1h-1zM61 273h1v1h-1zM61 296h1v1h-1zM61 299h1v1h-1zM61 302h1v2h-1zM61 310h1v1h-1zM62 3h1v1h-1zM62 44h1v2h-1zM62 188h1v1h-1zM62 209h1v1h-1zM62 234h1v1h-1zM62 237h1v1h-1zM62 250h1v2h-1zM62 270h1v1h-1zM62 274h1v2h-1zM62 292h1v1h-1zM62 295h1v1h-1zM62 303h1v1h-1zM62 308h1v1h-1zM62 311h1v1h-1zM63 8h1v1h-1zM63 14h1v1h-1zM63 46h1v1h-1zM63 183h1v1h-1zM63 198h1v5h-1zM63 239h1v1h-1zM63 245h1v1h-1zM63 260h1v1h-1zM63 264h1v2h-1zM63 272h1v1h-1zM63 280h1v1h-1zM63 286h1v1h-1zM64 41h1v1h-1zM64 61h1v1h-1zM64 130h1v1h-1zM64 199h1v1h-1zM64 207h1v1h-1zM64 234h1v1h-1zM64 247h1v4h-1zM65 32h1v1h-1zM65 35h1v1h-1zM65 56h1v1h-1zM65 154h1v1h-1zM65 171h1v3h-1zM65 190h1v1h-1zM65 198h1v1h-1zM66 70h1v1h-1zM66 154h1v1h-1zM66 169h1v1h-1zM66 186h1v2h-1zM66 195h1v1h-1zM66 210h1v1h-1zM66 228h1v1h-1zM66 237h1v1h-1zM67 60h1v1h-1zM67 62h1v1h-1zM67 137h1v1h-1zM67 183h1v1h-1zM67 192h1v1h-1zM67 205h1v1h-1zM67 208h1v1h-1zM68 20h1v1h-1zM68 139h1v1h-1zM68 183h1v1h-1zM68 213h1v1h-1zM68 218h1v1h-1zM68 231h1v1h-1zM68 235h1v1h-1zM69 0h1v1h-1zM69 25h1v1h-1zM69 176h1v1h-1zM70 20h1v1h-1zM70 165h1v1h-1zM71 6h1v10h-1zM71 140h1v1h-1zM71 149h1v1h-1zM72 5h1v1h-1zM72 15h1v1h-1zM72 150h1v1h-1zM72 158h1v1h-1zM72 160h1v1h-1zM73 175h1v1h-1zM73 292h1v1h-1zM73 299h1v2h-1zM73 315h1v1h-1zM74 140h1v1h-1zM74 170h1v1h-1zM74 172h1v1h-1zM74 196h1v1h-1zM74 205h1v1h-1zM74 209h1v3h-1zM74 215h1v2h-1zM74 218h1v1h-1zM74 237h1v1h-1zM74 239h1v1h-1zM74 241h1v1h-1zM74 247h1v1h-1zM74 256h1v1h-1zM74 260h1v1h-1zM74 265h1v1h-1zM74 270h1v1h-1zM74 283h1v1h-1zM74 289h1v1h-1zM74 294h1v1h-1zM74 297h1v1h-1zM75 166h1v1h-1zM75 189h1v2h-1zM75 214h1v1h-1zM75 218h1v1h-1zM75 222h1v1h-1zM75 235h1v1h-1zM75 247h1v1h-1zM75 257h1v2h-1zM75 269h1v1h-1zM75 278h1v1h-1zM75 283h1v1h-1zM75 289h1v2h-1zM76 147h1v1h-1zM76 239h1v1h-1zM76 248h1v1h-1zM76 257h1v1h-1zM76 263h1v2h-1zM76 294h1v5h-1zM76 302h1v1h-1zM77 180h1v1h-1zM77 190h1v1h-1zM77 242h1v1h-1zM77 250h1v2h-1zM77 255h1v1h-1zM77 258h1v1h-1zM77 265h1v1h-1zM77 277h1v3h-1zM77 294h1v2h-1zM77 305h1v1h-1zM78 133h1v1h-1zM78 181h1v1h-1zM78 183h1v3h-1zM78 191h1v2h-1zM79 182h1v1h-1zM79 193h1v1h-1zM79 258h1v2h-1zM80 69h1v1h-1zM80 188h1v1h-1zM80 225h1v2h-1zM81 182h1v1h-1zM81 218h1v1h-1zM81 220h1v1h-1zM81 223h1v2h-1zM81 229h1v1h-1zM82 19h1v1h-1zM82 200h1v1h-1zM83 175h1v1h-1zM83 200h1v1h-1zM84 45h1v2h-1zM84 51h1v1h-1zM84 100h1v2h-1zM85 33h1v1h-1zM85 38h1v1h-1zM85 300h1v1h-1zM85 314h1v1h-1zM86 34h1v1h-1zM86 300h1v1h-1zM86 314h1v1h-1zM87 16h1v1h-1zM87 22h1v1h-1zM87 275h1v1h-1zM87 298h1v1h-1zM88 6h1v1h-1zM88 282h1v2h-1zM88 299h1v1h-1zM89 4h1v1h-1zM89 7h1v1h-1zM89 258h1v1h-1zM89 263h1v1h-1zM89 271h1v1h-1zM90 129h1v1h-1zM90 247h1v2h-1zM91 226h1v1h-1zM92 289h1v3h-1zM93 229h1v1h-1zM93 275h1v3h-1zM94 142h1v1h-1zM94 157h1v3h-1zM94 226h1v2h-1zM94 232h1v1h-1zM94 235h1v1h-1zM94 239h1v1h-1zM94 248h1v1h-1zM94 251h1v1h-1zM94 253h1v1h-1zM94 257h1v1h-1zM94 268h1v1h-1zM94 273h1v3h-1zM95 152h1v1h-1zM95 224h1v1h-1zM97 174h1v1h-1zM97 199h1v1h-1zM97 214h1v1h-1zM97 230h1v1h-1zM98 175h1v2h-1zM98 184h1v2h-1zM98 191h1v1h-1zM98 201h1v1h-1zM98 212h1v1h-1zM98 230h1v1h-1z"/>
<path fill="#770000" d="M22 19h1v1h-1zM22 25h1v2h-1zM23 20h1v2h-1zM23 60h1v2h-1zM23 80h1v1h-1zM23 82h1v1h-1zM24 35h1v1h-1zM24 37h1v1h-1zM35 243h1v2h-1zM36 37h1v1h-1zM36 39h1v1h-1zM39 30h1v1h-1zM39 252h1v1h-1zM39 268h1v1h-1zM39 274h1v1h-1zM40 30h1v1h-1zM40 264h1v1h-1zM40 266h1v1h-1zM40 276h1v1h-1zM41 25h1v4h-1zM41 34h1v2h-1zM41 277h1v1h-1zM42 77h1v1h-1zM43 48h1v1h-1zM45 0h1v1h-1zM45 64h1v1h-1zM45 71h1v1h-1zM45 102h1v1h-1zM45 108h1v1h-1zM46 89h1v2h-1zM46 107h1v1h-1zM46 184h1v1h-1zM47 16h1v1h-1zM47 37h1v1h-1zM47 40h1v1h-1zM47 99h1v2h-1zM47 224h1v1h-1zM47 227h1v1h-1zM48 80h1v1h-1zM48 180h1v1h-1zM48 184h1v1h-1zM48 315h1v1h-1zM50 19h1v1h-1zM50 76h1v1h-1zM50 114h1v1h-1zM51 9h1v1h-1zM51 14h1v1h-1zM51 31h1v5h-1zM51 40h1v1h-1zM51 60h1v1h-1zM51 79h1v1h-1zM51 95h1v2h-1zM51 100h1v1h-1zM51 102h1v3h-1zM52 1h1v1h-1zM52 11h1v1h-1zM52 18h1v1h-1zM52 21h1v1h-1zM52 25h1v1h-1zM52 46h1v1h-1zM52 65h1v1h-1zM52 76h1v3h-1zM52 87h1v3h-1zM52 94h1v1h-1zM52 98h1v1h-1zM52 102h1v1h-1zM53 17h1v1h-1zM53 22h1v1h-1zM53 61h1v1h-1zM53 69h1v1h-1zM53 108h1v1h-1zM53 224h1v1h-1zM53 227h1v1h-1zM53 251h1v1h-1zM53 293h1v2h-1zM54 9h1v1h-1zM54 16h1v1h-1zM54 29h1v1h-1zM54 62h1v1h-1zM54 66h1v2h-1zM54 293h1v1h-1zM54 307h1v1h-1zM55 13h1v1h-1zM55 16h1v3h-1zM55 62h1v1h-1zM55 107h1v1h-1zM55 240h1v3h-1zM55 246h1v2h-1zM55 253h1v1h-1zM55 262h1v1h-1zM55 275h1v1h-1zM55 286h1v1h-1zM55 288h1v1h-1zM55 292h1v2h-1zM55 295h1v2h-1zM55 304h1v1h-1zM55 307h1v1h-1zM55 309h1v1h-1zM56 22h1v4h-1zM56 39h1v3h-1zM56 48h1v1h-1zM56 66h1v1h-1zM56 108h1v1h-1zM56 258h1v1h-1zM56 261h1v1h-1zM56 270h1v1h-1zM56 281h1v1h-1zM56 287h1v1h-1zM56 292h1v1h-1zM56 296h1v1h-1zM56 304h1v1h-1zM57 40h1v1h-1zM57 108h1v1h-1zM57 236h1v1h-1zM57 253h1v2h-1zM57 256h1v2h-1zM57 283h1v1h-1zM57 286h1v1h-1zM57 289h1v1h-1zM57 298h1v1h-1zM58 211h1v1h-1zM58 236h1v1h-1zM58 253h1v1h-1zM58 257h1v2h-1zM58 262h1v1h-1zM58 271h1v4h-1zM58 286h1v1h-1zM58 289h1v4h-1zM58 309h1v4h-1zM59 40h1v1h-1zM59 207h1v1h-1zM59 230h1v2h-1zM59 251h1v6h-1zM59 272h1v1h-1zM59 288h1v3h-1zM59 301h1v1h-1zM60 41h1v2h-1zM60 44h1v1h-1zM60 214h1v1h-1zM60 250h1v1h-1zM60 256h1v2h-1zM60 263h1v1h-1zM60 274h1v3h-1zM60 288h1v1h-1zM60 307h1v2h-1zM61 49h1v1h-1zM61 120h1v1h-1zM61 195h1v1h-1zM61 245h1v1h-1zM61 257h1v1h-1zM61 289h1v1h-1zM61 295h1v1h-1zM61 300h1v2h-1zM62 10h1v2h-1zM62 203h1v1h-1zM62 235h1v2h-1zM62 263h1v1h-1zM62 266h1v1h-1zM62 271h1v3h-1zM62 276h1v1h-1zM62 280h1v1h-1zM62 288h1v1h-1zM62 299h1v4h-1zM63 13h1v1h-1zM63 203h1v1h-1zM63 230h1v1h-1zM63 234h1v1h-1zM63 261h1v3h-1zM63 266h1v1h-1zM63 279h1v1h-1zM63 311h1v1h-1zM64 42h1v1h-1zM64 44h1v1h-1zM64 62h1v1h-1zM64 120h1v1h-1zM64 132h1v1h-1zM64 162h1v1h-1zM64 179h1v1h-1zM64 197h1v1h-1zM64 212h1v1h-1zM64 233h1v1h-1zM64 235h1v1h-1zM64 246h1v1h-1zM64 251h1v1h-1zM64 259h1v1h-1zM64 282h1v1h-1zM64 286h1v3h-1zM65 36h1v3h-1zM65 162h1v1h-1zM65 186h1v1h-1zM65 200h1v1h-1zM66 56h1v1h-1zM66 69h1v1h-1zM66 123h1v2h-1zM66 185h1v1h-1zM66 202h1v1h-1zM66 229h1v1h-1zM66 314h1v1h-1zM67 1h1v1h-1zM67 61h1v1h-1zM67 63h1v1h-1zM67 132h1v1h-1zM67 141h1v1h-1zM67 164h1v2h-1zM67 188h1v1h-1zM67 195h1v1h-1zM67 209h1v3h-1zM67 253h1v1h-1zM68 66h1v1h-1zM68 135h1v1h-1zM68 219h1v5h-1zM68 230h1v1h-1zM68 232h1v1h-1zM68 234h1v1h-1zM69 23h1v1h-1zM70 0h1v1h-1zM70 169h1v1h-1zM70 180h1v3h-1zM71 150h1v1h-1zM71 171h1v1h-1zM73 3h1v1h-1zM73 15h1v1h-1zM73 246h1v1h-1zM73 291h1v1h-1zM73 301h1v1h-1zM74 171h1v1h-1zM74 187h1v1h-1zM74 197h1v1h-1zM74 212h1v3h-1zM74 219h1v3h-1zM74 240h1v1h-1zM74 248h1v1h-1zM74 250h1v1h-1zM74 259h1v1h-1zM74 269h1v1h-1zM74 273h1v1h-1zM74 279h1v1h-1zM74 295h1v2h-1zM75 146h1v1h-1zM75 162h1v1h-1zM75 165h1v1h-1zM75 188h1v1h-1zM75 203h1v6h-1zM75 213h1v1h-1zM75 219h1v3h-1zM75 223h1v1h-1zM75 234h1v1h-1zM75 238h1v1h-1zM75 246h1v1h-1zM75 266h1v1h-1zM75 282h1v1h-1zM75 295h1v1h-1zM75 304h1v1h-1zM76 135h1v1h-1zM76 138h1v1h-1zM76 240h1v4h-1zM76 253h1v1h-1zM76 265h1v2h-1zM76 280h1v1h-1zM76 289h1v3h-1zM76 293h1v1h-1zM76 299h1v3h-1zM77 170h1v1h-1zM77 239h1v1h-1zM77 241h1v1h-1zM77 252h1v1h-1zM77 268h1v1h-1zM77 296h1v2h-1zM77 302h1v1h-1zM78 106h1v1h-1zM78 135h1v2h-1zM78 182h1v1h-1zM78 186h1v1h-1zM79 113h1v1h-1zM79 134h1v1h-1zM79 183h1v1h-1zM79 188h1v3h-1zM79 248h1v1h-1zM80 193h1v1h-1zM80 224h1v1h-1zM80 227h1v2h-1zM81 81h1v1h-1zM81 203h1v1h-1zM81 208h1v4h-1zM81 222h1v1h-1zM82 20h1v1h-1zM82 80h1v1h-1zM83 14h1v1h-1zM83 74h1v1h-1zM83 133h1v1h-1zM84 47h1v1h-1zM84 176h1v1h-1zM84 187h1v1h-1zM84 196h1v1h-1zM84 239h1v1h-1zM85 3h1v1h-1zM85 313h1v1h-1zM86 31h1v1h-1zM87 17h1v1h-1zM87 270h1v1h-1zM88 1h1v1h-1zM88 5h1v1h-1zM88 118h1v2h-1zM88 276h1v1h-1zM88 289h1v1h-1zM88 293h1v1h-1zM88 296h1v1h-1zM88 302h1v1h-1zM89 8h1v1h-1zM89 259h1v1h-1zM89 262h1v1h-1zM90 249h1v1h-1zM90 297h1v2h-1zM91 308h1v1h-1zM92 225h1v1h-1zM92 251h1v3h-1zM93 230h1v1h-1zM93 232h1v1h-1zM93 263h1v1h-1zM93 274h1v1h-1zM94 147h1v1h-1zM94 156h1v1h-1zM94 198h1v1h-1zM94 228h1v1h-1zM94 236h1v3h-1zM94 245h1v1h-1zM94 252h1v1h-1zM94 258h1v1h-1zM94 265h1v3h-1zM96 161h1v1h-1zM97 166h1v1h-1zM97 173h1v1h-1zM97 180h1v1h-1zM97 185h1v1h-1zM97 195h1v4h-1zM97 217h1v1h-1zM97 222h1v8h-1zM97 240h1v1h-1zM98 169h1v1h-1zM98 177h1v1h-1zM98 183h1v1h-1zM98 186h1v1h-1zM98 190h1v1h-1zM98 213h1v1h-1zM98 222h1v1h-1zM99 176h1v1h-1z"/>
<path fill="#880000" d="M22 17h1v2h-1zM23 19h1v1h-1zM23 81h1v1h-1zM24 36h1v1h-1zM36 38h1v1h-1zM39 253h1v1h-1zM39 275h1v1h-1zM40 22h1v1h-1zM40 28h1v2h-1zM40 251h1v1h-1zM40 261h1v3h-1zM40 267h1v1h-1zM41 8h1v1h-1zM41 24h1v1h-1zM41 29h1v1h-1zM41 55h1v1h-1zM41 247h1v1h-1zM42 24h1v1h-1zM42 63h1v2h-1zM42 239h1v1h-1zM43 30h1v1h-1zM43 38h1v1h-1zM43 315h1v1h-1zM44 63h1v1h-1zM44 88h1v1h-1zM44 107h1v1h-1zM45 61h1v1h-1zM45 63h1v1h-1zM45 65h1v1h-1zM46 80h1v3h-1zM46 91h1v5h-1zM46 105h1v1h-1zM46 110h1v1h-1zM47 41h1v1h-1zM47 48h1v1h-1zM47 79h1v1h-1zM47 89h1v1h-1zM47 91h1v1h-1zM47 98h1v1h-1zM47 225h1v2h-1zM48 24h1v1h-1zM48 48h1v1h-1zM48 111h1v1h-1zM48 181h1v3h-1zM49 79h1v1h-1zM50 0h1v1h-1zM50 12h1v4h-1zM50 25h1v1h-1zM50 36h1v1h-1zM50 48h1v1h-1zM50 75h1v1h-1zM50 77h1v1h-1zM50 84h1v1h-1zM50 90h1v1h-1zM50 95h1v2h-1zM50 100h1v1h-1zM50 113h1v1h-1zM51 2h1v2h-1zM51 16h1v1h-1zM51 20h1v1h-1zM51 41h1v2h-1zM51 45h1v1h-1zM51 77h1v2h-1zM51 97h1v3h-1zM51 285h1v2h-1zM52 15h1v1h-1zM52 17h1v1h-1zM52 36h1v2h-1zM52 69h1v2h-1zM52 90h1v4h-1zM52 237h1v1h-1zM52 250h1v1h-1zM53 2h1v1h-1zM53 18h1v1h-1zM53 21h1v1h-1zM53 31h1v1h-1zM53 34h1v1h-1zM53 67h1v1h-1zM53 228h1v1h-1zM53 230h1v3h-1zM53 252h1v1h-1zM53 295h1v1h-1zM54 17h1v4h-1zM54 25h1v2h-1zM54 28h1v1h-1zM54 68h1v1h-1zM54 253h1v1h-1zM54 292h1v1h-1zM54 311h1v1h-1zM54 315h1v1h-1zM55 15h1v1h-1zM55 63h1v1h-1zM55 226h1v1h-1zM55 243h1v3h-1zM55 254h1v1h-1zM55 258h1v1h-1zM55 263h1v1h-1zM55 269h1v6h-1zM55 287h1v1h-1zM55 294h1v1h-1zM55 305h1v2h-1zM55 310h1v4h-1zM56 42h1v1h-1zM56 47h1v1h-1zM56 67h1v2h-1zM56 241h1v1h-1zM56 257h1v1h-1zM56 262h1v1h-1zM56 269h1v1h-1zM56 273h1v1h-1zM56 276h1v1h-1zM56 284h1v1h-1zM56 291h1v1h-1zM56 293h1v3h-1zM56 305h1v1h-1zM56 307h1v1h-1zM57 49h1v1h-1zM57 215h1v1h-1zM57 251h1v2h-1zM57 258h1v1h-1zM57 270h1v1h-1zM57 284h1v2h-1zM57 290h1v3h-1zM57 294h1v1h-1zM57 299h1v1h-1zM57 310h1v1h-1zM58 51h1v1h-1zM58 212h1v1h-1zM58 240h1v1h-1zM58 251h1v2h-1zM58 263h1v2h-1zM58 287h1v2h-1zM58 293h1v1h-1zM58 313h1v1h-1zM58 315h1v1h-1zM59 51h1v1h-1zM59 245h1v1h-1zM59 257h1v1h-1zM59 271h1v1h-1zM59 298h1v1h-1zM60 201h1v1h-1zM60 258h1v1h-1zM60 277h1v1h-1zM60 281h1v1h-1zM60 289h1v2h-1zM60 295h1v1h-1zM61 44h1v1h-1zM61 48h1v1h-1zM61 56h1v1h-1zM61 208h1v1h-1zM61 211h1v1h-1zM61 243h1v2h-1zM61 290h1v1h-1zM61 294h1v1h-1zM62 4h1v1h-1zM62 9h1v1h-1zM62 12h1v1h-1zM62 15h1v1h-1zM62 264h1v2h-1zM62 277h1v1h-1zM62 279h1v1h-1zM62 289h1v3h-1zM62 296h1v3h-1zM62 309h1v1h-1zM63 9h1v1h-1zM63 45h1v1h-1zM63 208h1v3h-1zM63 231h1v1h-1zM63 233h1v1h-1zM63 240h1v1h-1zM63 244h1v1h-1zM63 270h1v1h-1zM63 273h1v1h-1zM63 277h1v2h-1zM63 302h1v1h-1zM63 310h1v1h-1zM64 43h1v1h-1zM64 118h1v1h-1zM64 196h1v1h-1zM64 200h1v1h-1zM64 206h1v1h-1zM64 230h1v1h-1zM64 232h1v1h-1zM64 236h1v1h-1zM64 257h1v2h-1zM64 260h1v1h-1zM64 283h1v3h-1zM64 289h1v2h-1zM64 298h1v1h-1zM64 314h1v1h-1zM65 31h1v1h-1zM65 163h1v1h-1zM65 185h1v1h-1zM65 191h1v1h-1zM65 197h1v1h-1zM65 218h1v1h-1zM65 231h1v1h-1zM66 59h1v1h-1zM66 67h1v1h-1zM66 162h1v2h-1zM66 184h1v1h-1zM66 188h1v1h-1zM66 209h1v1h-1zM66 227h1v1h-1zM66 230h1v1h-1zM66 247h1v1h-1zM66 266h1v1h-1zM67 64h1v1h-1zM67 67h1v1h-1zM67 70h1v1h-1zM67 136h1v1h-1zM67 170h1v1h-1zM67 191h1v1h-1zM67 200h1v5h-1zM67 219h1v1h-1zM67 236h1v1h-1zM68 3h1v1h-1zM68 58h1v1h-1zM68 138h1v1h-1zM68 188h1v1h-1zM68 212h1v1h-1zM68 224h1v1h-1zM68 233h1v1h-1zM69 24h1v1h-1zM69 67h1v1h-1zM70 64h1v1h-1zM70 179h1v1h-1zM70 185h1v1h-1zM71 159h1v1h-1zM71 166h1v1h-1zM71 172h1v1h-1zM71 188h1v1h-1zM72 6h1v1h-1zM72 14h1v1h-1zM72 166h1v1h-1zM72 225h1v1h-1zM73 4h1v1h-1zM73 173h1v2h-1zM73 245h1v1h-1zM73 247h1v1h-1zM73 273h1v1h-1zM73 293h1v1h-1zM73 298h1v1h-1zM74 146h1v1h-1zM74 185h1v1h-1zM74 198h1v1h-1zM74 204h1v1h-1zM74 222h1v1h-1zM74 225h1v3h-1zM74 236h1v1h-1zM74 249h1v1h-1zM74 257h1v2h-1zM74 266h1v1h-1zM74 284h1v1h-1zM74 288h1v1h-1zM75 163h1v2h-1zM75 185h1v1h-1zM75 191h1v1h-1zM75 202h1v1h-1zM75 209h1v4h-1zM75 245h1v1h-1zM75 267h1v2h-1zM75 279h1v3h-1zM75 296h1v5h-1zM76 140h1v1h-1zM76 160h1v1h-1zM76 164h1v3h-1zM76 256h1v1h-1zM76 267h1v1h-1zM76 271h1v2h-1zM76 276h1v1h-1zM76 287h1v2h-1zM76 292h1v1h-1zM77 161h1v1h-1zM77 166h1v1h-1zM77 240h1v1h-1zM77 253h1v2h-1zM77 266h1v2h-1zM77 287h1v1h-1zM77 303h1v2h-1zM78 134h1v1h-1zM78 137h1v1h-1zM78 139h1v1h-1zM78 187h1v1h-1zM78 190h1v1h-1zM79 135h1v4h-1zM79 184h1v1h-1zM79 187h1v1h-1zM79 191h1v2h-1zM79 269h1v1h-1zM80 155h1v1h-1zM80 171h1v1h-1zM80 189h1v1h-1zM80 223h1v1h-1zM80 242h1v1h-1zM80 244h1v1h-1zM81 79h1v2h-1zM81 82h1v1h-1zM81 171h1v1h-1zM81 200h1v1h-1zM81 207h1v1h-1zM81 212h1v1h-1zM81 217h1v1h-1zM81 221h1v1h-1zM81 225h1v1h-1zM81 228h1v1h-1zM81 309h1v1h-1zM82 21h1v1h-1zM83 15h1v1h-1zM83 179h1v4h-1zM83 199h1v1h-1zM84 15h1v1h-1zM84 44h1v1h-1zM84 48h1v1h-1zM84 50h1v1h-1zM84 177h1v2h-1zM84 182h1v1h-1zM84 188h1v1h-1zM85 2h1v1h-1zM85 301h1v1h-1zM85 311h1v2h-1zM87 18h1v1h-1zM87 124h1v1h-1zM87 217h1v1h-1zM87 292h1v1h-1zM87 297h1v1h-1zM88 2h1v1h-1zM88 124h1v1h-1zM88 281h1v1h-1zM88 290h1v1h-1zM88 297h1v2h-1zM88 303h1v1h-1zM89 5h1v2h-1zM89 9h1v1h-1zM89 260h1v2h-1zM89 272h1v1h-1zM90 122h1v1h-1zM90 250h1v1h-1zM90 254h1v4h-1zM90 271h1v1h-1zM90 296h1v1h-1zM90 299h1v1h-1zM91 126h1v1h-1zM91 282h1v3h-1zM92 144h1v1h-1zM92 196h1v1h-1zM92 227h1v2h-1zM92 234h1v2h-1zM92 250h1v1h-1zM92 254h1v1h-1zM92 288h1v1h-1zM93 140h1v2h-1zM93 156h1v1h-1zM93 231h1v1h-1zM93 233h1v1h-1zM93 244h1v1h-1zM93 262h1v1h-1zM93 264h1v1h-1zM94 146h1v1h-1zM94 148h1v1h-1zM94 164h1v1h-1zM94 195h1v1h-1zM94 229h1v1h-1zM94 231h1v1h-1zM94 246h1v2h-1zM94 259h1v1h-1zM94 262h1v3h-1zM95 153h1v1h-1zM96 162h1v1h-1zM97 163h1v1h-1zM97 171h1v2h-1zM97 189h1v1h-1zM97 194h1v1h-1zM97 201h1v1h-1zM97 211h1v3h-1zM97 221h1v1h-1zM98 174h1v1h-1zM98 178h1v1h-1zM98 182h1v1h-1zM98 187h1v1h-1zM98 189h1v1h-1zM98 198h1v1h-1zM98 200h1v1h-1zM98 214h1v1h-1zM98 223h1v1h-1zM98 229h1v1h-1z"/>
<path fill="#990000" d="M23 16h1v1h-1zM23 18h1v1h-1zM32 265h1v1h-1zM37 254h1v1h-1zM38 254h1v1h-1zM39 31h1v1h-1zM39 35h1v2h-1zM40 25h1v3h-1zM40 31h1v2h-1zM40 48h1v1h-1zM40 260h1v1h-1zM40 268h1v4h-1zM40 275h1v1h-1zM40 278h1v1h-1zM41 23h1v1h-1zM41 30h1v1h-1zM41 33h1v1h-1zM41 36h1v1h-1zM41 248h1v1h-1zM41 264h1v1h-1zM41 271h1v1h-1zM42 16h1v2h-1zM42 23h1v1h-1zM43 29h1v1h-1zM43 37h1v1h-1zM43 39h1v1h-1zM43 47h1v1h-1zM43 102h1v1h-1zM43 236h1v1h-1zM43 286h1v1h-1zM43 301h1v2h-1zM44 16h1v1h-1zM44 24h1v2h-1zM44 62h1v1h-1zM44 108h1v1h-1zM44 235h1v1h-1zM45 15h1v2h-1zM45 52h1v2h-1zM45 62h1v1h-1zM45 82h1v1h-1zM45 89h1v1h-1zM45 233h1v1h-1zM46 11h1v2h-1zM46 88h1v1h-1zM46 99h1v1h-1zM46 108h1v1h-1zM47 17h1v1h-1zM47 36h1v1h-1zM47 42h1v5h-1zM47 53h1v2h-1zM47 97h1v1h-1zM47 109h1v1h-1zM47 233h1v2h-1zM47 315h1v1h-1zM48 23h1v1h-1zM48 25h1v1h-1zM48 36h1v1h-1zM48 46h1v1h-1zM48 95h1v5h-1zM48 312h1v3h-1zM49 57h1v2h-1zM49 78h1v1h-1zM49 81h1v1h-1zM49 85h1v1h-1zM50 11h1v1h-1zM50 20h1v1h-1zM50 35h1v1h-1zM50 94h1v1h-1zM50 99h1v1h-1zM51 4h1v1h-1zM51 8h1v1h-1zM51 15h1v1h-1zM51 30h1v1h-1zM51 43h1v2h-1zM51 80h1v2h-1zM51 85h1v2h-1zM51 105h1v1h-1zM52 16h1v1h-1zM52 22h1v3h-1zM52 35h1v1h-1zM52 38h1v1h-1zM52 45h1v1h-1zM52 99h1v1h-1zM52 101h1v1h-1zM52 238h1v1h-1zM52 249h1v1h-1zM52 251h1v1h-1zM52 260h1v2h-1zM53 3h1v1h-1zM53 10h1v1h-1zM53 19h1v2h-1zM53 32h1v2h-1zM53 63h1v1h-1zM53 68h1v1h-1zM53 229h1v1h-1zM54 21h1v1h-1zM54 27h1v1h-1zM54 36h1v1h-1zM54 223h1v1h-1zM54 283h1v1h-1zM54 296h1v1h-1zM54 306h1v1h-1zM55 14h1v1h-1zM55 255h1v3h-1zM55 264h1v1h-1zM55 268h1v1h-1zM56 43h1v4h-1zM56 221h1v1h-1zM56 250h1v3h-1zM56 263h1v2h-1zM56 274h1v2h-1zM56 282h1v1h-1zM56 288h1v1h-1zM56 306h1v1h-1zM57 41h1v1h-1zM57 232h1v2h-1zM57 239h1v1h-1zM57 259h1v1h-1zM57 293h1v1h-1zM58 213h1v1h-1zM58 250h1v1h-1zM58 265h1v1h-1zM58 270h1v1h-1zM58 294h1v1h-1zM58 300h1v1h-1zM58 314h1v1h-1zM59 258h1v1h-1zM59 270h1v1h-1zM59 299h1v2h-1zM60 45h1v1h-1zM60 51h1v1h-1zM60 247h1v3h-1zM60 259h1v1h-1zM60 262h1v1h-1zM60 278h1v3h-1zM60 291h1v1h-1zM61 47h1v1h-1zM61 66h1v1h-1zM61 119h1v1h-1zM61 196h1v1h-1zM61 212h1v1h-1zM61 291h1v3h-1zM62 5h1v1h-1zM62 7h1v2h-1zM62 13h1v2h-1zM62 189h1v1h-1zM62 278h1v1h-1zM62 310h1v1h-1zM63 10h1v3h-1zM63 42h1v1h-1zM63 197h1v1h-1zM63 204h1v1h-1zM63 207h1v1h-1zM63 232h1v1h-1zM63 241h1v1h-1zM63 274h1v3h-1zM63 308h1v2h-1zM64 63h1v1h-1zM64 66h1v1h-1zM64 131h1v1h-1zM64 163h1v1h-1zM64 180h1v1h-1zM64 191h1v5h-1zM64 231h1v1h-1zM64 245h1v1h-1zM64 252h1v1h-1zM64 281h1v1h-1zM64 291h1v1h-1zM64 297h1v1h-1zM64 311h1v2h-1zM65 52h1v1h-1zM65 134h1v2h-1zM65 229h1v2h-1zM65 314h1v1h-1zM66 0h1v1h-1zM66 170h1v1h-1zM66 172h1v1h-1zM66 194h1v1h-1zM66 208h1v1h-1zM66 219h1v1h-1zM66 224h1v3h-1zM66 252h1v3h-1zM67 16h1v1h-1zM67 19h1v1h-1zM67 142h1v1h-1zM67 171h1v1h-1zM67 182h1v1h-1zM67 189h1v2h-1zM67 196h1v1h-1zM67 199h1v1h-1zM67 229h1v3h-1zM67 306h1v2h-1zM67 313h1v1h-1zM68 2h1v1h-1zM68 137h1v1h-1zM68 175h1v1h-1zM68 182h1v1h-1zM68 229h1v1h-1zM68 271h1v1h-1zM69 19h1v1h-1zM69 59h1v1h-1zM69 140h1v1h-1zM69 162h1v1h-1zM69 186h1v1h-1zM70 60h1v1h-1zM70 63h1v1h-1zM70 65h1v2h-1zM70 140h1v1h-1zM70 170h1v2h-1zM70 178h1v1h-1zM70 183h1v1h-1zM71 151h1v1h-1zM71 158h1v1h-1zM71 173h1v2h-1zM72 7h1v1h-1zM72 157h1v1h-1zM72 161h1v1h-1zM72 223h1v2h-1zM72 226h1v1h-1zM73 5h1v2h-1zM73 8h1v1h-1zM73 166h1v1h-1zM73 172h1v1h-1zM73 176h1v1h-1zM73 272h1v1h-1zM73 274h1v1h-1zM73 302h1v1h-1zM73 311h1v2h-1zM74 186h1v1h-1zM74 223h1v2h-1zM74 228h1v1h-1zM74 234h1v2h-1zM74 267h1v2h-1zM74 274h1v1h-1zM74 278h1v1h-1zM74 285h1v1h-1zM75 140h1v1h-1zM75 187h1v1h-1zM75 201h1v1h-1zM75 233h1v1h-1zM75 301h1v3h-1zM76 254h1v2h-1zM76 268h1v3h-1zM76 273h1v1h-1zM76 275h1v1h-1zM76 286h1v1h-1zM77 165h1v1h-1zM77 293h1v1h-1zM78 162h1v1h-1zM78 188h1v2h-1zM79 185h1v2h-1zM80 190h1v3h-1zM80 266h1v1h-1zM81 8h1v2h-1zM81 78h1v1h-1zM81 183h1v1h-1zM81 206h1v1h-1zM81 213h1v1h-1zM81 216h1v1h-1zM81 226h1v1h-1zM81 261h1v1h-1zM81 310h1v1h-1zM82 22h1v2h-1zM82 29h1v2h-1zM82 63h1v3h-1zM82 266h1v1h-1zM83 16h1v1h-1zM83 64h1v2h-1zM83 176h1v1h-1zM83 178h1v1h-1zM84 16h1v1h-1zM84 18h1v1h-1zM84 49h1v1h-1zM84 179h1v3h-1zM84 189h1v1h-1zM84 195h1v1h-1zM86 32h1v2h-1zM86 301h1v1h-1zM87 19h1v1h-1zM87 21h1v1h-1zM87 293h1v1h-1zM88 3h1v2h-1zM88 277h1v1h-1zM88 279h1v2h-1zM88 291h1v1h-1zM88 307h1v3h-1zM89 310h1v3h-1zM90 128h1v1h-1zM90 251h1v3h-1zM90 258h1v1h-1zM90 272h1v1h-1zM90 300h1v1h-1zM91 135h1v1h-1zM91 229h1v1h-1zM91 247h1v1h-1zM91 276h1v3h-1zM91 285h1v1h-1zM91 290h1v2h-1zM91 300h1v1h-1zM91 307h1v1h-1zM92 133h1v1h-1zM92 143h1v1h-1zM92 193h1v1h-1zM92 226h1v1h-1zM92 242h1v2h-1zM92 249h1v1h-1zM92 255h1v1h-1zM92 258h1v1h-1zM92 278h1v1h-1zM93 135h1v1h-1zM93 234h1v1h-1zM93 245h1v1h-1zM93 265h1v1h-1zM93 273h1v1h-1zM94 143h1v1h-1zM94 145h1v1h-1zM94 155h1v1h-1zM94 160h1v1h-1zM94 197h1v1h-1zM94 230h1v1h-1zM94 260h1v2h-1zM97 160h1v1h-1zM97 164h1v2h-1zM97 181h1v1h-1zM97 184h1v1h-1zM97 190h1v1h-1zM97 192h1v2h-1zM97 207h1v4h-1zM97 218h1v1h-1zM97 220h1v1h-1zM98 179h1v3h-1zM98 188h1v1h-1zM98 199h1v1h-1zM98 221h1v1h-1zM98 224h1v1h-1zM98 228h1v1h-1z"/>
<path fill="#aa0000" d="M23 17h1v1h-1zM39 32h1v3h-1zM39 254h1v1h-1zM39 259h1v1h-1zM39 262h1v1h-1zM39 267h1v1h-1zM40 23h1v2h-1zM40 258h1v2h-1zM40 272h1v1h-1zM41 19h1v4h-1zM41 32h1v1h-1zM41 48h1v1h-1zM41 249h1v2h-1zM41 263h1v1h-1zM41 265h1v1h-1zM41 270h1v1h-1zM41 272h1v1h-1zM41 275h1v1h-1zM42 18h1v1h-1zM42 22h1v1h-1zM42 25h1v1h-1zM42 38h1v2h-1zM42 240h1v1h-1zM42 268h1v2h-1zM42 300h1v2h-1zM43 31h1v2h-1zM43 262h1v1h-1zM43 285h1v1h-1zM43 287h1v1h-1zM43 296h1v2h-1zM43 303h1v1h-1zM44 14h1v2h-1zM44 23h1v1h-1zM44 61h1v1h-1zM44 102h1v1h-1zM45 13h1v1h-1zM45 17h1v1h-1zM45 54h1v1h-1zM45 90h1v1h-1zM45 236h1v2h-1zM46 10h1v1h-1zM46 87h1v1h-1zM46 96h1v1h-1zM46 100h1v1h-1zM46 104h1v1h-1zM46 109h1v1h-1zM46 280h1v1h-1zM46 287h1v2h-1zM46 315h1v1h-1zM47 27h1v2h-1zM47 35h1v1h-1zM47 52h1v1h-1zM47 55h1v1h-1zM47 70h1v1h-1zM47 235h1v2h-1zM48 1h1v1h-1zM48 35h1v1h-1zM48 37h1v1h-1zM48 45h1v1h-1zM48 47h1v1h-1zM48 78h1v2h-1zM48 81h1v1h-1zM48 100h1v1h-1zM48 311h1v1h-1zM49 19h1v2h-1zM49 24h1v3h-1zM49 35h1v1h-1zM49 48h1v1h-1zM49 56h1v1h-1zM49 84h1v1h-1zM49 86h1v1h-1zM49 91h1v1h-1zM49 97h1v3h-1zM49 281h1v2h-1zM49 292h1v1h-1zM50 10h1v1h-1zM50 21h1v1h-1zM50 37h1v1h-1zM50 40h1v2h-1zM50 46h1v1h-1zM50 52h1v4h-1zM50 78h1v1h-1zM50 80h1v1h-1zM50 83h1v1h-1zM50 97h1v2h-1zM51 5h1v3h-1zM51 21h1v1h-1zM51 25h1v2h-1zM51 82h1v1h-1zM51 106h1v1h-1zM51 109h1v1h-1zM51 233h1v1h-1zM51 259h1v1h-1zM51 266h1v2h-1zM51 284h1v1h-1zM51 299h1v1h-1zM51 314h1v1h-1zM52 2h1v5h-1zM52 26h1v1h-1zM52 34h1v1h-1zM52 39h1v6h-1zM52 64h1v1h-1zM52 100h1v1h-1zM52 248h1v1h-1zM52 252h1v2h-1zM52 262h1v1h-1zM52 286h1v1h-1zM53 4h1v1h-1zM53 9h1v1h-1zM53 62h1v1h-1zM53 233h1v1h-1zM53 259h1v1h-1zM53 292h1v1h-1zM53 296h1v1h-1zM54 24h1v1h-1zM54 37h1v2h-1zM54 108h1v1h-1zM54 258h1v2h-1zM54 266h1v3h-1zM54 282h1v1h-1zM54 284h1v1h-1zM54 291h1v1h-1zM56 26h1v1h-1zM56 235h1v1h-1zM56 248h1v2h-1zM56 253h1v1h-1zM56 256h1v1h-1zM56 265h1v1h-1zM56 267h1v2h-1zM56 283h1v1h-1zM56 289h1v2h-1zM57 42h1v1h-1zM57 234h1v2h-1zM57 250h1v1h-1zM57 260h1v1h-1zM57 269h1v1h-1zM57 300h1v2h-1zM57 309h1v1h-1zM58 43h1v1h-1zM58 214h1v1h-1zM58 235h1v1h-1zM58 241h1v1h-1zM58 249h1v1h-1zM59 41h1v1h-1zM59 208h1v1h-1zM59 218h1v1h-1zM59 240h1v1h-1zM59 263h1v1h-1zM59 269h1v1h-1zM60 246h1v1h-1zM60 260h1v2h-1zM60 292h1v1h-1zM60 294h1v1h-1zM61 45h1v2h-1zM62 6h1v1h-1zM62 210h1v1h-1zM63 43h1v2h-1zM63 184h1v1h-1zM63 189h1v2h-1zM63 205h1v1h-1zM63 211h1v1h-1zM63 242h1v2h-1zM63 267h1v1h-1zM63 303h1v1h-1zM63 307h1v1h-1zM64 8h1v1h-1zM64 19h1v1h-1zM64 64h1v1h-1zM64 205h1v1h-1zM64 256h1v1h-1zM64 299h1v1h-1zM64 310h1v1h-1zM65 30h1v1h-1zM65 59h1v1h-1zM65 174h1v1h-1zM65 192h1v1h-1zM65 196h1v1h-1zM65 201h1v1h-1zM65 212h1v1h-1zM65 227h1v2h-1zM65 232h1v1h-1zM65 271h1v3h-1zM65 275h1v2h-1zM65 292h1v1h-1zM66 18h1v1h-1zM66 171h1v1h-1zM66 173h1v1h-1zM66 183h1v1h-1zM66 203h1v1h-1zM66 206h1v2h-1zM66 223h1v1h-1zM66 236h1v1h-1zM66 248h1v1h-1zM66 251h1v1h-1zM66 255h1v1h-1zM67 15h1v1h-1zM67 17h1v1h-1zM67 69h1v1h-1zM67 143h1v1h-1zM67 163h1v1h-1zM67 172h1v1h-1zM67 197h1v2h-1zM67 232h1v1h-1zM67 235h1v1h-1zM67 308h1v1h-1zM68 4h1v1h-1zM68 14h1v1h-1zM68 65h1v1h-1zM68 136h1v1h-1zM68 140h1v1h-1zM68 164h1v1h-1zM68 169h1v1h-1zM68 211h1v1h-1zM68 225h1v1h-1zM68 270h1v1h-1zM68 284h1v2h-1zM68 312h1v1h-1zM69 16h1v2h-1zM69 148h1v1h-1zM69 169h1v1h-1zM70 19h1v1h-1zM70 61h1v2h-1zM71 153h1v3h-1zM71 157h1v1h-1zM71 160h1v1h-1zM71 181h1v2h-1zM72 13h1v1h-1zM72 151h1v1h-1zM72 172h1v1h-1zM72 222h1v1h-1zM72 249h1v1h-1zM72 302h1v2h-1zM73 7h1v1h-1zM73 9h1v1h-1zM73 14h1v1h-1zM73 161h1v2h-1zM73 244h1v1h-1zM73 248h1v1h-1zM73 255h1v5h-1zM73 290h1v1h-1zM73 313h1v1h-1zM74 199h1v1h-1zM74 203h1v1h-1zM74 229h1v1h-1zM74 233h1v1h-1zM74 286h1v2h-1zM75 186h1v1h-1zM75 192h1v1h-1zM75 197h1v4h-1zM75 239h1v1h-1zM75 244h1v1h-1zM76 161h1v1h-1zM76 163h1v1h-1zM76 274h1v1h-1zM76 281h1v1h-1zM76 285h1v1h-1zM77 162h1v3h-1zM78 138h1v1h-1zM78 165h1v1h-1zM79 108h1v1h-1zM81 51h1v1h-1zM81 59h1v2h-1zM81 77h1v1h-1zM81 184h1v1h-1zM81 204h1v2h-1zM81 214h1v2h-1zM81 227h1v1h-1zM82 24h1v1h-1zM82 28h1v1h-1zM82 31h1v1h-1zM82 79h1v1h-1zM82 178h1v1h-1zM83 17h1v2h-1zM83 63h1v1h-1zM83 66h1v1h-1zM83 69h1v1h-1zM83 73h1v1h-1zM83 177h1v1h-1zM83 183h1v1h-1zM83 198h1v1h-1zM84 17h1v1h-1zM84 19h1v1h-1zM84 25h1v1h-1zM84 190h1v5h-1zM85 302h1v1h-1zM85 310h1v1h-1zM86 313h1v1h-1zM87 20h1v1h-1zM87 294h1v1h-1zM87 296h1v1h-1zM88 122h1v1h-1zM88 278h1v1h-1zM88 292h1v1h-1zM88 304h1v3h-1zM89 273h1v1h-1zM89 309h1v1h-1zM90 259h1v1h-1zM90 270h1v1h-1zM90 285h1v1h-1zM90 295h1v1h-1zM90 301h1v6h-1zM91 127h1v1h-1zM91 248h1v1h-1zM91 270h1v3h-1zM91 274h1v2h-1zM91 279h1v3h-1zM91 289h1v1h-1zM91 292h1v1h-1zM91 295h1v5h-1zM91 301h1v6h-1zM92 134h1v1h-1zM92 142h1v1h-1zM92 229h1v2h-1zM92 233h1v1h-1zM92 241h1v1h-1zM92 244h1v1h-1zM92 256h1v2h-1zM92 259h1v1h-1zM92 277h1v1h-1zM92 279h1v1h-1zM93 142h1v1h-1zM93 152h1v4h-1zM93 243h1v1h-1zM93 246h1v1h-1zM93 261h1v1h-1zM93 272h1v1h-1zM94 144h1v1h-1zM94 149h1v1h-1zM94 154h1v1h-1zM94 196h1v1h-1zM95 154h1v1h-1zM95 191h1v3h-1zM96 163h1v1h-1zM97 162h1v1h-1zM97 167h1v1h-1zM97 169h1v2h-1zM97 182h1v2h-1zM97 191h1v1h-1zM97 219h1v1h-1zM98 170h1v1h-1zM98 220h1v1h-1z"/>
<path fill="#bb0000" d="M39 37h1v1h-1zM39 260h1v2h-1zM39 263h1v1h-1zM40 33h1v1h-1zM40 47h1v1h-1zM40 252h1v1h-1zM40 257h1v1h-1zM40 273h1v2h-1zM41 15h1v4h-1zM41 45h1v3h-1zM41 273h1v2h-1zM41 276h1v1h-1zM42 5h1v2h-1zM42 15h1v1h-1zM42 19h1v3h-1zM42 37h1v1h-1zM42 290h1v2h-1zM42 299h1v1h-1zM42 311h1v2h-1zM43 0h1v1h-1zM43 24h1v2h-1zM43 28h1v1h-1zM43 36h1v1h-1zM43 40h1v1h-1zM43 46h1v1h-1zM43 261h1v1h-1zM43 263h1v1h-1zM43 284h1v1h-1zM43 288h1v5h-1zM43 295h1v1h-1zM43 300h1v1h-1zM43 311h1v1h-1zM43 314h1v1h-1zM44 0h1v1h-1zM44 13h1v1h-1zM44 21h1v2h-1zM44 26h1v1h-1zM44 57h1v4h-1zM45 12h1v1h-1zM45 51h1v1h-1zM45 234h1v2h-1zM46 1h1v2h-1zM46 52h1v2h-1zM46 70h1v1h-1zM46 86h1v1h-1zM46 101h1v1h-1zM46 279h1v1h-1zM46 281h1v1h-1zM46 285h1v2h-1zM46 289h1v1h-1zM46 291h1v2h-1zM47 15h1v1h-1zM47 34h1v1h-1zM47 47h1v1h-1zM47 51h1v1h-1zM47 56h1v1h-1zM47 80h1v2h-1zM47 88h1v1h-1zM47 96h1v1h-1zM47 237h1v1h-1zM48 2h1v1h-1zM48 22h1v1h-1zM48 26h1v1h-1zM48 32h1v3h-1zM48 44h1v1h-1zM48 77h1v1h-1zM48 84h1v5h-1zM48 233h1v1h-1zM49 0h1v1h-1zM49 16h1v1h-1zM49 18h1v1h-1zM49 21h1v3h-1zM49 34h1v1h-1zM49 36h1v1h-1zM49 40h1v2h-1zM49 59h1v1h-1zM49 82h1v2h-1zM49 100h1v1h-1zM49 106h1v1h-1zM49 280h1v1h-1zM49 283h1v1h-1zM49 290h1v2h-1zM49 293h1v1h-1zM49 301h1v1h-1zM49 305h1v1h-1zM50 9h1v1h-1zM50 22h1v3h-1zM50 30h1v1h-1zM50 38h1v2h-1zM50 42h1v1h-1zM50 45h1v1h-1zM50 47h1v1h-1zM50 49h1v1h-1zM50 51h1v1h-1zM50 56h1v1h-1zM50 91h1v1h-1zM50 93h1v1h-1zM50 236h1v1h-1zM51 27h1v1h-1zM51 29h1v1h-1zM51 61h1v5h-1zM51 83h1v2h-1zM51 87h1v1h-1zM51 94h1v1h-1zM51 108h1v1h-1zM51 260h1v1h-1zM51 265h1v1h-1zM51 283h1v1h-1zM52 10h1v1h-1zM52 27h1v1h-1zM52 33h1v1h-1zM52 108h1v1h-1zM52 239h1v2h-1zM52 296h1v3h-1zM53 5h1v1h-1zM53 8h1v1h-1zM53 253h1v1h-1zM53 258h1v1h-1zM53 315h1v1h-1zM54 22h1v2h-1zM54 39h1v1h-1zM54 265h1v1h-1zM54 269h1v1h-1zM54 285h1v1h-1zM54 290h1v1h-1zM54 312h1v1h-1zM55 64h1v1h-1zM55 227h1v1h-1zM55 265h1v1h-1zM55 267h1v1h-1zM56 242h1v1h-1zM56 247h1v1h-1zM56 254h1v2h-1zM56 266h1v1h-1zM57 231h1v1h-1zM57 249h1v1h-1zM57 268h1v1h-1zM57 302h1v1h-1zM57 305h1v4h-1zM58 215h1v1h-1zM58 242h1v1h-1zM58 266h1v4h-1zM58 295h1v1h-1zM59 50h1v1h-1zM59 244h1v1h-1zM59 259h1v1h-1zM59 262h1v1h-1zM59 264h1v1h-1zM59 268h1v1h-1zM60 50h1v1h-1zM60 213h1v1h-1zM60 241h1v1h-1zM60 245h1v1h-1zM60 293h1v1h-1zM61 54h1v1h-1zM61 197h1v1h-1zM62 117h1v1h-1zM62 202h1v1h-1zM63 125h1v1h-1zM63 191h1v1h-1zM63 206h1v1h-1zM63 212h1v1h-1zM63 268h1v2h-1zM63 304h1v1h-1zM63 306h1v1h-1zM64 1h1v1h-1zM64 7h1v1h-1zM64 9h1v1h-1zM64 65h1v1h-1zM64 181h1v1h-1zM64 201h1v1h-1zM64 253h1v1h-1zM64 255h1v1h-1zM64 261h1v1h-1zM64 292h1v1h-1zM64 300h1v1h-1zM64 313h1v1h-1zM65 29h1v1h-1zM65 193h1v3h-1zM65 211h1v1h-1zM65 225h1v1h-1zM65 270h1v1h-1zM65 274h1v1h-1zM65 277h1v1h-1zM65 280h1v3h-1zM65 293h1v1h-1zM66 53h1v1h-1zM66 189h1v1h-1zM66 205h1v1h-1zM66 221h1v2h-1zM66 231h1v1h-1zM67 18h1v1h-1zM67 65h1v2h-1zM67 181h1v1h-1zM67 220h1v2h-1zM67 228h1v1h-1zM67 233h1v2h-1zM67 300h1v1h-1zM67 305h1v1h-1zM68 13h1v1h-1zM68 15h1v1h-1zM68 174h1v1h-1zM68 181h1v1h-1zM68 210h1v1h-1zM68 226h1v1h-1zM68 228h1v1h-1zM68 254h1v1h-1zM68 272h1v1h-1zM68 277h1v2h-1zM68 290h1v6h-1zM68 311h1v1h-1zM69 15h1v1h-1zM69 18h1v1h-1zM69 149h1v1h-1zM69 161h1v1h-1zM69 175h1v1h-1zM70 150h1v2h-1zM70 177h1v1h-1zM70 184h1v1h-1zM71 152h1v1h-1zM71 156h1v1h-1zM71 161h1v1h-1zM71 185h1v1h-1zM72 8h1v1h-1zM72 173h1v1h-1zM72 175h1v1h-1zM72 221h1v1h-1zM72 227h1v1h-1zM72 250h1v1h-1zM72 264h1v2h-1zM72 270h1v1h-1zM72 301h1v1h-1zM72 304h1v1h-1zM72 315h1v1h-1zM73 13h1v1h-1zM73 151h1v1h-1zM73 159h1v2h-1zM73 191h1v1h-1zM73 243h1v1h-1zM73 254h1v1h-1zM73 260h1v1h-1zM73 271h1v1h-1zM73 275h1v1h-1zM73 284h1v1h-1zM73 294h1v1h-1zM73 297h1v1h-1zM73 303h1v1h-1zM73 310h1v1h-1zM73 314h1v1h-1zM74 200h1v3h-1zM74 230h1v3h-1zM74 275h1v1h-1zM74 277h1v1h-1zM75 193h1v1h-1zM75 196h1v1h-1zM75 224h1v1h-1zM75 232h1v1h-1zM75 240h1v4h-1zM76 146h1v1h-1zM76 162h1v1h-1zM76 284h1v1h-1zM77 135h1v1h-1zM77 288h1v1h-1zM80 243h1v1h-1zM81 58h1v1h-1zM81 185h1v1h-1zM82 32h1v1h-1zM82 40h1v2h-1zM82 62h1v1h-1zM82 66h1v1h-1zM82 181h1v1h-1zM83 26h1v1h-1zM83 67h1v2h-1zM83 70h1v1h-1zM83 132h1v1h-1zM84 20h1v1h-1zM84 24h1v1h-1zM84 26h1v1h-1zM84 33h1v1h-1zM84 43h1v1h-1zM84 240h1v1h-1zM85 303h1v1h-1zM86 302h1v2h-1zM86 311h1v2h-1zM87 125h1v1h-1zM87 295h1v1h-1zM88 310h1v1h-1zM88 312h1v3h-1zM89 123h1v1h-1zM89 287h1v2h-1zM89 313h1v1h-1zM90 260h1v6h-1zM90 273h1v1h-1zM90 284h1v1h-1zM90 315h1v1h-1zM91 128h1v6h-1zM91 230h1v1h-1zM91 246h1v1h-1zM91 269h1v1h-1zM91 273h1v1h-1zM91 286h1v3h-1zM91 293h1v2h-1zM92 195h1v1h-1zM92 231h1v2h-1zM92 236h1v1h-1zM92 245h1v1h-1zM92 248h1v1h-1zM92 260h1v1h-1zM92 270h1v2h-1zM92 276h1v1h-1zM92 287h1v1h-1zM93 139h1v1h-1zM93 148h1v1h-1zM93 150h1v2h-1zM93 235h1v1h-1zM93 242h1v1h-1zM93 247h1v1h-1zM93 266h1v1h-1zM94 153h1v1h-1zM94 161h1v1h-1zM95 155h1v2h-1zM95 158h1v2h-1zM95 190h1v1h-1zM97 161h1v1h-1zM97 168h1v1h-1zM97 206h1v1h-1zM98 173h1v1h-1zM98 215h1v1h-1zM98 219h1v1h-1zM98 225h1v3h-1z"/>
<path fill="#cc0000" d="M39 38h1v1h-1zM39 264h1v3h-1zM40 46h1v1h-1zM40 256h1v1h-1zM41 11h1v4h-1zM41 31h1v1h-1zM41 37h1v1h-1zM41 41h1v2h-1zM41 44h1v1h-1zM41 251h1v1h-1zM41 262h1v1h-1zM41 266h1v1h-1zM42 7h1v1h-1zM42 12h1v3h-1zM42 40h1v1h-1zM42 241h1v1h-1zM42 245h1v3h-1zM42 267h1v1h-1zM42 270h1v1h-1zM42 275h1v1h-1zM42 289h1v1h-1zM42 292h1v2h-1zM42 298h1v1h-1zM42 310h1v1h-1zM42 313h1v1h-1zM42 315h1v1h-1zM43 16h1v1h-1zM43 21h1v3h-1zM43 26h1v1h-1zM43 33h1v1h-1zM43 237h1v1h-1zM43 293h1v2h-1zM43 298h1v2h-1zM43 304h1v1h-1zM43 310h1v1h-1zM43 312h1v1h-1zM44 17h1v4h-1zM44 49h1v1h-1zM44 98h1v1h-1zM45 11h1v1h-1zM45 18h1v1h-1zM45 48h1v1h-1zM45 66h1v1h-1zM45 98h1v1h-1zM45 238h1v1h-1zM46 9h1v1h-1zM46 13h1v1h-1zM46 29h1v1h-1zM46 54h1v1h-1zM46 59h1v1h-1zM46 97h1v1h-1zM46 102h1v2h-1zM46 233h1v2h-1zM46 282h1v1h-1zM46 284h1v1h-1zM46 290h1v1h-1zM46 293h1v1h-1zM47 1h1v1h-1zM47 14h1v1h-1zM47 29h1v1h-1zM47 49h1v2h-1zM47 57h1v2h-1zM47 64h1v6h-1zM47 82h1v1h-1zM47 95h1v1h-1zM47 101h1v1h-1zM47 238h1v1h-1zM48 16h1v1h-1zM48 31h1v1h-1zM48 38h1v1h-1zM48 42h1v2h-1zM48 53h1v3h-1zM48 82h1v2h-1zM48 91h1v1h-1zM48 296h1v1h-1zM49 17h1v1h-1zM49 27h1v1h-1zM49 37h1v1h-1zM49 39h1v1h-1zM49 42h1v1h-1zM49 46h1v1h-1zM49 55h1v1h-1zM49 77h1v1h-1zM49 87h1v2h-1zM49 90h1v1h-1zM49 92h1v1h-1zM49 96h1v1h-1zM49 274h1v6h-1zM49 284h1v6h-1zM49 297h1v1h-1zM49 300h1v1h-1zM49 302h1v3h-1zM49 306h1v1h-1zM50 6h1v3h-1zM50 34h1v1h-1zM50 43h1v2h-1zM50 50h1v1h-1zM50 57h1v4h-1zM50 79h1v1h-1zM50 81h1v2h-1zM50 92h1v1h-1zM50 110h1v1h-1zM50 237h1v1h-1zM50 242h1v1h-1zM50 273h1v1h-1zM51 22h1v3h-1zM51 28h1v1h-1zM51 66h1v1h-1zM51 107h1v1h-1zM51 234h1v1h-1zM51 242h1v1h-1zM51 251h1v1h-1zM51 258h1v1h-1zM51 261h1v1h-1zM51 268h1v1h-1zM51 282h1v1h-1zM51 298h1v1h-1zM51 313h1v1h-1zM52 7h1v1h-1zM52 28h1v2h-1zM52 60h1v1h-1zM52 241h1v1h-1zM52 247h1v1h-1zM52 287h1v1h-1zM52 299h1v1h-1zM52 315h1v1h-1zM53 6h1v2h-1zM53 260h1v1h-1zM53 297h1v1h-1zM53 310h1v2h-1zM54 224h1v2h-1zM54 232h1v2h-1zM54 257h1v1h-1zM54 260h1v1h-1zM54 270h1v1h-1zM54 281h1v1h-1zM54 297h1v1h-1zM54 305h1v1h-1zM54 313h1v1h-1zM55 68h1v1h-1zM55 108h1v1h-1zM55 266h1v1h-1zM56 222h1v2h-1zM56 246h1v1h-1zM57 43h1v1h-1zM57 216h1v1h-1zM57 230h1v1h-1zM57 244h1v1h-1zM57 261h1v5h-1zM57 267h1v1h-1zM57 303h1v2h-1zM58 50h1v1h-1zM58 216h1v1h-1zM58 220h1v1h-1zM58 234h1v1h-1zM58 243h1v1h-1zM58 248h1v1h-1zM58 296h1v1h-1zM58 299h1v1h-1zM59 212h1v2h-1zM59 243h1v1h-1zM59 260h1v2h-1zM59 265h1v1h-1zM60 46h1v1h-1zM60 202h1v1h-1zM62 122h1v1h-1zM62 190h1v1h-1zM62 211h1v2h-1zM63 124h1v1h-1zM63 126h1v1h-1zM63 188h1v1h-1zM63 196h1v1h-1zM63 305h1v1h-1zM64 10h1v1h-1zM64 13h1v2h-1zM64 190h1v1h-1zM64 204h1v1h-1zM64 237h1v1h-1zM64 244h1v1h-1zM64 254h1v1h-1zM64 280h1v1h-1zM64 296h1v1h-1zM65 26h1v3h-1zM65 55h1v1h-1zM65 175h1v1h-1zM65 184h1v1h-1zM65 208h1v3h-1zM65 219h1v1h-1zM65 237h1v1h-1zM65 251h1v6h-1zM65 263h1v2h-1zM65 269h1v1h-1zM65 278h1v2h-1zM65 283h1v1h-1zM65 291h1v1h-1zM65 294h1v1h-1zM66 17h1v1h-1zM66 55h1v1h-1zM66 182h1v1h-1zM66 193h1v1h-1zM66 204h1v1h-1zM66 220h1v1h-1zM66 249h1v2h-1zM66 256h1v1h-1zM66 265h1v1h-1zM66 280h1v1h-1zM67 2h1v5h-1zM67 13h1v2h-1zM67 144h1v1h-1zM67 173h1v1h-1zM67 270h1v1h-1zM67 285h1v2h-1zM67 299h1v1h-1zM67 301h1v1h-1zM67 304h1v1h-1zM67 309h1v1h-1zM68 5h1v1h-1zM68 12h1v1h-1zM68 16h1v1h-1zM68 19h1v1h-1zM68 189h1v1h-1zM68 202h1v2h-1zM68 209h1v1h-1zM68 227h1v1h-1zM68 276h1v1h-1zM68 283h1v1h-1zM68 286h1v1h-1zM68 289h1v1h-1zM68 310h1v1h-1zM69 141h1v1h-1zM69 147h1v1h-1zM69 170h1v2h-1zM69 315h1v1h-1zM70 149h1v1h-1zM70 152h1v1h-1zM70 172h1v1h-1zM70 315h1v1h-1zM71 162h1v2h-1zM71 165h1v1h-1zM71 183h1v1h-1zM72 12h1v1h-1zM72 156h1v1h-1zM72 165h1v1h-1zM72 174h1v1h-1zM72 176h1v1h-1zM72 248h1v1h-1zM72 251h1v1h-1zM72 263h1v1h-1zM72 266h1v1h-1zM72 269h1v1h-1zM72 271h1v1h-1zM72 299h1v2h-1zM72 305h1v1h-1zM73 10h1v1h-1zM73 150h1v1h-1zM73 157h1v2h-1zM73 163h1v1h-1zM73 165h1v1h-1zM73 177h1v1h-1zM73 190h1v1h-1zM73 192h1v1h-1zM73 242h1v1h-1zM73 249h1v2h-1zM73 253h1v1h-1zM73 261h1v4h-1zM73 276h1v2h-1zM73 283h1v1h-1zM73 285h1v1h-1zM73 289h1v1h-1zM74 276h1v1h-1zM75 145h1v1h-1zM75 150h1v1h-1zM75 194h1v2h-1zM76 282h1v2h-1zM77 171h1v1h-1zM77 177h1v1h-1zM77 289h1v1h-1zM77 292h1v1h-1zM80 154h1v1h-1zM81 76h1v1h-1zM81 266h1v1h-1zM82 25h1v1h-1zM82 27h1v1h-1zM82 33h1v3h-1zM82 42h1v1h-1zM82 45h1v1h-1zM82 61h1v1h-1zM82 199h1v1h-1zM83 19h1v1h-1zM83 23h1v3h-1zM83 27h1v1h-1zM83 58h1v1h-1zM83 62h1v1h-1zM83 71h1v2h-1zM84 21h1v3h-1zM84 32h1v1h-1zM84 34h1v1h-1zM84 42h1v1h-1zM85 304h1v2h-1zM85 309h1v1h-1zM86 304h1v1h-1zM86 310h1v1h-1zM87 122h1v1h-1zM88 311h1v1h-1zM89 274h1v3h-1zM89 289h1v3h-1zM89 308h1v1h-1zM89 314h1v2h-1zM90 123h1v1h-1zM90 127h1v1h-1zM90 266h1v1h-1zM90 269h1v1h-1zM90 274h1v1h-1zM90 286h1v1h-1zM90 289h1v2h-1zM90 307h1v1h-1zM91 134h1v1h-1zM91 231h1v1h-1zM91 237h1v1h-1zM91 249h1v1h-1zM92 135h1v1h-1zM92 141h1v1h-1zM92 194h1v1h-1zM92 240h1v1h-1zM92 246h1v1h-1zM92 261h1v1h-1zM92 268h1v2h-1zM92 272h1v1h-1zM92 274h1v2h-1zM92 280h1v2h-1zM93 147h1v1h-1zM93 149h1v1h-1zM93 241h1v1h-1zM93 248h1v4h-1zM93 260h1v1h-1zM93 271h1v1h-1zM94 150h1v3h-1zM94 162h1v1h-1zM95 157h1v1h-1zM95 175h1v3h-1zM95 194h1v1h-1zM95 199h1v2h-1zM95 223h1v1h-1zM96 164h1v1h-1zM97 202h1v1h-1zM98 171h1v2h-1zM98 216h1v1h-1zM98 218h1v1h-1z"/>
<path fill="#dd0000" d="M39 40h1v5h-1zM40 34h1v2h-1zM40 42h1v2h-1zM40 45h1v1h-1zM40 253h1v1h-1zM40 255h1v1h-1zM41 9h1v2h-1zM41 38h1v3h-1zM41 43h1v1h-1zM41 252h1v1h-1zM41 260h1v2h-1zM41 269h1v1h-1zM42 4h1v1h-1zM42 8h1v1h-1zM42 11h1v1h-1zM42 26h1v1h-1zM42 36h1v1h-1zM42 48h1v1h-1zM42 242h1v1h-1zM42 244h1v1h-1zM42 274h1v1h-1zM42 276h1v1h-1zM42 294h1v4h-1zM42 302h1v1h-1zM43 15h1v1h-1zM43 17h1v1h-1zM43 20h1v1h-1zM43 27h1v1h-1zM43 34h1v2h-1zM43 45h1v1h-1zM43 240h1v1h-1zM43 248h1v2h-1zM43 260h1v1h-1zM43 264h1v1h-1zM43 283h1v1h-1zM44 12h1v1h-1zM44 27h1v1h-1zM44 48h1v1h-1zM44 56h1v1h-1zM44 236h1v1h-1zM45 14h1v1h-1zM45 49h1v2h-1zM45 280h1v1h-1zM45 315h1v1h-1zM46 3h1v1h-1zM46 8h1v1h-1zM46 51h1v1h-1zM46 60h1v1h-1zM46 64h1v1h-1zM46 83h1v1h-1zM46 235h1v1h-1zM46 278h1v1h-1zM46 283h1v1h-1zM46 298h1v3h-1zM47 2h1v1h-1zM47 13h1v1h-1zM47 30h1v1h-1zM47 32h1v2h-1zM47 59h1v2h-1zM47 63h1v1h-1zM47 83h1v1h-1zM47 102h1v1h-1zM47 108h1v1h-1zM47 304h1v1h-1zM47 309h1v3h-1zM47 314h1v1h-1zM48 3h1v1h-1zM48 30h1v1h-1zM48 39h1v3h-1zM48 52h1v1h-1zM48 76h1v1h-1zM48 90h1v1h-1zM48 92h1v3h-1zM48 106h1v1h-1zM48 295h1v1h-1zM48 297h1v1h-1zM48 302h1v3h-1zM48 310h1v1h-1zM49 28h1v1h-1zM49 33h1v1h-1zM49 38h1v1h-1zM49 43h1v3h-1zM49 47h1v1h-1zM49 107h1v1h-1zM49 294h1v1h-1zM49 296h1v1h-1zM49 298h1v2h-1zM49 315h1v1h-1zM50 61h1v1h-1zM50 101h1v1h-1zM50 235h1v1h-1zM50 238h1v1h-1zM50 241h1v1h-1zM50 243h1v1h-1zM50 272h1v1h-1zM50 274h1v1h-1zM50 280h1v2h-1zM50 284h1v4h-1zM50 296h1v2h-1zM51 67h1v1h-1zM51 88h1v1h-1zM51 241h1v1h-1zM51 250h1v1h-1zM51 252h1v1h-1zM51 262h1v3h-1zM51 278h1v4h-1zM51 287h1v1h-1zM51 297h1v1h-1zM51 311h1v2h-1zM52 8h1v2h-1zM52 30h1v1h-1zM52 63h1v1h-1zM52 263h1v1h-1zM52 280h1v3h-1zM52 285h1v1h-1zM53 237h1v3h-1zM53 257h1v1h-1zM53 287h1v3h-1zM53 291h1v1h-1zM53 298h1v1h-1zM53 309h1v1h-1zM54 226h1v1h-1zM54 231h1v1h-1zM54 234h1v1h-1zM54 254h1v2h-1zM54 264h1v1h-1zM54 276h1v1h-1zM54 286h1v1h-1zM54 289h1v1h-1zM54 300h1v2h-1zM54 314h1v1h-1zM55 228h1v1h-1zM56 32h1v1h-1zM56 224h1v2h-1zM56 234h1v1h-1zM56 243h1v1h-1zM57 48h1v1h-1zM57 219h1v2h-1zM57 228h1v2h-1zM57 243h1v1h-1zM57 245h1v1h-1zM57 248h1v1h-1zM57 266h1v1h-1zM58 217h1v3h-1zM58 221h1v1h-1zM58 225h1v9h-1zM58 244h1v1h-1zM58 297h1v2h-1zM59 49h1v1h-1zM59 209h1v1h-1zM59 211h1v1h-1zM59 214h1v2h-1zM59 241h1v2h-1zM59 267h1v1h-1zM60 49h1v1h-1zM60 242h1v3h-1zM61 207h1v1h-1zM63 185h1v1h-1zM63 187h1v1h-1zM64 6h1v1h-1zM64 11h1v2h-1zM64 15h1v1h-1zM64 119h1v1h-1zM64 202h1v2h-1zM64 243h1v1h-1zM64 293h1v1h-1zM64 301h1v1h-1zM64 309h1v1h-1zM65 1h1v1h-1zM65 25h1v1h-1zM65 54h1v1h-1zM65 62h1v1h-1zM65 66h1v1h-1zM65 202h1v1h-1zM65 206h1v2h-1zM65 224h1v1h-1zM65 233h1v1h-1zM65 248h1v3h-1zM65 257h1v1h-1zM65 265h1v4h-1zM66 54h1v1h-1zM66 60h1v1h-1zM66 66h1v1h-1zM66 190h1v1h-1zM66 232h1v1h-1zM66 235h1v1h-1zM66 257h1v1h-1zM67 7h1v1h-1zM67 11h1v2h-1zM67 145h1v1h-1zM67 176h1v1h-1zM67 222h1v1h-1zM67 227h1v1h-1zM67 254h1v1h-1zM67 267h1v3h-1zM67 284h1v1h-1zM67 287h1v1h-1zM67 302h1v2h-1zM68 6h1v3h-1zM68 64h1v1h-1zM68 141h1v1h-1zM68 149h1v2h-1zM68 158h1v1h-1zM68 173h1v1h-1zM68 176h1v1h-1zM68 180h1v1h-1zM68 201h1v1h-1zM68 204h1v1h-1zM68 208h1v1h-1zM68 269h1v1h-1zM68 279h1v1h-1zM68 287h1v2h-1zM68 296h1v1h-1zM68 307h1v3h-1zM69 1h1v1h-1zM69 14h1v1h-1zM69 66h1v1h-1zM69 160h1v1h-1zM69 172h1v1h-1zM70 18h1v1h-1zM70 141h1v1h-1zM70 173h1v1h-1zM70 188h1v1h-1zM71 164h1v1h-1zM71 180h1v1h-1zM72 177h1v1h-1zM72 252h1v1h-1zM72 262h1v1h-1zM72 267h1v2h-1zM72 272h1v1h-1zM72 289h1v1h-1zM72 296h1v3h-1zM73 11h1v2h-1zM73 152h1v5h-1zM73 164h1v1h-1zM73 178h1v2h-1zM73 189h1v1h-1zM73 193h1v1h-1zM73 241h1v1h-1zM73 251h1v2h-1zM73 265h1v1h-1zM73 270h1v1h-1zM73 278h1v2h-1zM73 282h1v1h-1zM73 286h1v1h-1zM73 295h1v2h-1zM73 304h1v1h-1zM73 309h1v1h-1zM74 145h1v1h-1zM75 143h1v2h-1zM75 228h1v2h-1zM75 231h1v1h-1zM76 137h1v1h-1zM77 138h1v1h-1zM77 179h1v1h-1zM77 290h1v2h-1zM78 111h1v1h-1zM79 111h1v1h-1zM81 52h1v1h-1zM81 57h1v1h-1zM81 61h1v1h-1zM81 75h1v1h-1zM81 186h1v1h-1zM82 26h1v1h-1zM82 36h1v1h-1zM82 39h1v1h-1zM82 43h1v2h-1zM82 46h1v1h-1zM82 60h1v1h-1zM82 67h1v1h-1zM82 78h1v1h-1zM82 179h1v1h-1zM83 20h1v3h-1zM83 28h1v1h-1zM83 57h1v1h-1zM83 59h1v1h-1zM83 61h1v1h-1zM83 184h1v1h-1zM83 197h1v1h-1zM84 27h1v1h-1zM84 31h1v1h-1zM84 35h1v1h-1zM85 306h1v3h-1zM87 271h1v1h-1zM87 274h1v1h-1zM88 315h1v1h-1zM89 286h1v1h-1zM90 125h1v2h-1zM90 267h1v2h-1zM90 275h1v2h-1zM90 283h1v1h-1zM90 287h1v2h-1zM90 291h1v1h-1zM90 294h1v1h-1zM90 314h1v1h-1zM91 232h1v2h-1zM91 235h1v2h-1zM91 238h1v3h-1zM91 245h1v1h-1zM91 254h1v1h-1zM91 267h1v2h-1zM92 140h1v1h-1zM92 237h1v1h-1zM92 247h1v1h-1zM92 262h1v3h-1zM92 267h1v1h-1zM92 273h1v1h-1zM92 282h1v2h-1zM92 286h1v1h-1zM93 136h1v1h-1zM93 143h1v1h-1zM93 236h1v1h-1zM93 252h1v1h-1zM93 259h1v1h-1zM93 267h1v1h-1zM94 163h1v1h-1zM95 160h1v1h-1zM95 163h1v2h-1zM95 173h1v2h-1zM95 178h1v2h-1zM95 189h1v1h-1zM95 201h1v1h-1zM95 222h1v1h-1zM98 217h1v1h-1z"/>
<path fill="#ee0000" d="M39 39h1v1h-1zM39 45h1v1h-1zM39 48h1v1h-1zM40 36h1v2h-1zM40 41h1v1h-1zM40 44h1v1h-1zM41 77h1v1h-1zM41 253h1v1h-1zM41 258h1v2h-1zM41 267h1v2h-1zM41 278h1v1h-1zM42 1h1v1h-1zM42 3h1v1h-1zM42 9h1v2h-1zM42 30h1v1h-1zM42 41h1v1h-1zM42 243h1v1h-1zM42 248h1v1h-1zM42 262h1v1h-1zM42 266h1v1h-1zM42 271h1v3h-1zM42 277h1v1h-1zM42 288h1v1h-1zM42 306h1v2h-1zM42 309h1v1h-1zM42 314h1v1h-1zM43 14h1v1h-1zM43 18h1v2h-1zM43 41h1v1h-1zM43 238h1v2h-1zM43 241h1v1h-1zM43 247h1v1h-1zM43 250h1v1h-1zM43 267h1v3h-1zM43 305h1v1h-1zM43 313h1v1h-1zM44 4h1v4h-1zM44 28h1v2h-1zM44 315h1v1h-1zM45 19h1v1h-1zM45 70h1v1h-1zM46 4h1v1h-1zM46 7h1v1h-1zM46 62h1v2h-1zM46 65h1v5h-1zM46 84h1v1h-1zM46 236h1v3h-1zM46 294h1v1h-1zM46 297h1v1h-1zM46 301h1v1h-1zM46 310h1v2h-1zM46 314h1v1h-1zM47 24h1v1h-1zM47 31h1v1h-1zM47 61h1v2h-1zM47 84h1v1h-1zM47 87h1v1h-1zM47 103h1v1h-1zM47 276h1v1h-1zM47 305h1v4h-1zM47 312h1v2h-1zM48 9h1v1h-1zM48 14h1v2h-1zM48 21h1v1h-1zM48 27h1v1h-1zM48 49h1v3h-1zM48 56h1v1h-1zM48 89h1v1h-1zM48 289h1v2h-1zM48 294h1v1h-1zM48 298h1v1h-1zM48 301h1v1h-1zM48 305h1v2h-1zM48 309h1v1h-1zM49 9h1v1h-1zM49 15h1v1h-1zM49 32h1v1h-1zM49 54h1v1h-1zM49 76h1v1h-1zM49 105h1v1h-1zM49 110h1v1h-1zM49 266h1v2h-1zM49 295h1v1h-1zM50 4h1v2h-1zM50 102h1v1h-1zM50 282h1v2h-1zM50 288h1v1h-1zM50 295h1v1h-1zM50 298h1v1h-1zM50 309h1v2h-1zM50 315h1v1h-1zM51 68h1v1h-1zM51 70h1v1h-1zM51 89h1v1h-1zM51 93h1v1h-1zM51 235h1v1h-1zM51 243h1v1h-1zM51 249h1v1h-1zM51 269h1v1h-1zM51 277h1v1h-1zM51 296h1v1h-1zM51 310h1v1h-1zM52 32h1v1h-1zM52 242h1v1h-1zM52 246h1v1h-1zM52 279h1v1h-1zM52 283h1v2h-1zM53 234h1v1h-1zM53 271h1v2h-1zM53 279h1v2h-1zM53 290h1v1h-1zM53 299h1v1h-1zM53 312h1v2h-1zM54 230h1v1h-1zM54 235h1v1h-1zM54 256h1v1h-1zM54 261h1v1h-1zM54 263h1v1h-1zM54 287h1v2h-1zM54 298h1v2h-1zM54 302h1v3h-1zM55 65h1v3h-1zM55 239h1v1h-1zM56 31h1v1h-1zM56 244h1v2h-1zM57 44h1v3h-1zM57 217h1v2h-1zM57 221h1v1h-1zM57 242h1v1h-1zM57 246h1v2h-1zM58 44h1v1h-1zM58 224h1v1h-1zM58 245h1v1h-1zM58 247h1v1h-1zM59 42h1v1h-1zM59 210h1v1h-1zM59 216h1v2h-1zM59 266h1v1h-1zM60 47h1v2h-1zM61 55h1v1h-1zM61 198h1v1h-1zM62 119h1v2h-1zM62 201h1v1h-1zM63 192h1v1h-1zM64 16h1v3h-1zM64 182h1v3h-1zM64 240h1v3h-1zM64 269h1v2h-1zM64 279h1v1h-1zM64 294h1v2h-1zM64 302h1v1h-1zM65 24h1v1h-1zM65 53h1v1h-1zM65 61h1v1h-1zM65 63h1v1h-1zM65 203h1v1h-1zM65 205h1v1h-1zM65 220h1v2h-1zM65 223h1v1h-1zM65 245h1v3h-1zM65 284h1v1h-1zM65 295h1v1h-1zM65 299h1v2h-1zM66 63h1v2h-1zM66 181h1v1h-1zM66 191h1v2h-1zM66 258h1v2h-1zM66 264h1v1h-1zM67 8h1v1h-1zM67 10h1v1h-1zM67 146h1v2h-1zM67 266h1v1h-1zM67 278h1v2h-1zM67 288h1v1h-1zM67 310h1v1h-1zM68 9h1v3h-1zM68 17h1v1h-1zM68 142h1v2h-1zM68 148h1v1h-1zM68 157h1v1h-1zM68 163h1v1h-1zM68 170h1v1h-1zM68 177h1v1h-1zM68 199h1v2h-1zM68 205h1v3h-1zM68 260h1v1h-1zM68 265h1v2h-1zM68 273h1v1h-1zM68 275h1v1h-1zM68 297h1v1h-1zM68 304h1v3h-1zM69 10h1v1h-1zM69 60h1v1h-1zM69 63h1v1h-1zM69 146h1v1h-1zM69 150h1v1h-1zM69 158h1v2h-1zM69 173h1v1h-1zM70 17h1v1h-1zM70 148h1v1h-1zM70 153h1v1h-1zM70 156h1v2h-1zM70 174h1v3h-1zM71 175h1v1h-1zM72 9h1v1h-1zM72 11h1v1h-1zM72 152h1v1h-1zM72 164h1v1h-1zM72 206h1v1h-1zM72 220h1v1h-1zM72 228h1v1h-1zM72 234h1v1h-1zM72 247h1v1h-1zM72 253h1v3h-1zM72 273h1v3h-1zM72 288h1v1h-1zM72 290h1v1h-1zM72 295h1v1h-1zM72 306h1v1h-1zM73 180h1v1h-1zM73 188h1v1h-1zM73 214h1v2h-1zM73 240h1v1h-1zM73 266h1v1h-1zM73 269h1v1h-1zM73 280h1v2h-1zM73 287h1v2h-1zM73 305h1v1h-1zM74 141h1v1h-1zM75 141h1v2h-1zM75 225h1v1h-1zM75 230h1v1h-1zM76 136h1v1h-1zM77 176h1v1h-1zM78 163h1v2h-1zM81 56h1v1h-1zM81 62h1v1h-1zM81 68h1v3h-1zM82 37h1v2h-1zM82 50h1v2h-1zM82 59h1v1h-1zM82 77h1v1h-1zM82 180h1v1h-1zM82 182h1v1h-1zM83 60h1v1h-1zM84 28h1v3h-1zM84 36h1v1h-1zM84 41h1v1h-1zM86 305h1v1h-1zM86 309h1v1h-1zM89 277h1v1h-1zM89 292h1v1h-1zM89 296h1v5h-1zM90 277h1v1h-1zM90 292h1v2h-1zM90 313h1v1h-1zM91 234h1v1h-1zM91 241h1v2h-1zM91 244h1v1h-1zM91 250h1v1h-1zM91 253h1v1h-1zM91 255h1v1h-1zM91 265h1v2h-1zM92 136h1v1h-1zM92 238h1v2h-1zM92 284h1v2h-1zM93 138h1v1h-1zM93 146h1v1h-1zM93 240h1v1h-1zM93 253h1v1h-1zM93 258h1v1h-1zM93 268h1v1h-1zM93 270h1v1h-1zM95 161h1v2h-1zM95 165h1v1h-1zM95 172h1v1h-1zM95 184h1v5h-1zM95 195h1v1h-1zM95 198h1v1h-1zM95 205h1v1h-1zM95 212h1v2h-1zM96 165h1v2h-1zM96 170h1v1h-1zM97 203h1v1h-1zM97 205h1v1h-1z"/>
<path fill="#ff0000" d="M40 38h1v3h-1zM41 257h1v1h-1zM42 2h1v1h-1zM42 29h1v1h-1zM42 32h1v1h-1zM42 34h1v2h-1zM42 47h1v1h-1zM42 249h1v1h-1zM42 256h1v2h-1zM42 260h1v2h-1zM42 263h1v3h-1zM42 278h1v1h-1zM42 303h1v1h-1zM42 305h1v1h-1zM42 308h1v1h-1zM43 11h1v3h-1zM43 42h1v1h-1zM43 44h1v1h-1zM43 251h1v1h-1zM43 259h1v1h-1zM43 265h1v2h-1zM43 270h1v1h-1zM43 273h1v2h-1zM43 276h1v2h-1zM43 279h1v1h-1zM43 282h1v1h-1zM43 306h1v2h-1zM43 309h1v1h-1zM44 3h1v1h-1zM44 8h1v1h-1zM44 11h1v1h-1zM44 50h1v1h-1zM44 55h1v1h-1zM44 237h1v1h-1zM44 247h1v2h-1zM44 254h1v2h-1zM44 262h1v6h-1zM45 67h1v1h-1zM45 85h1v1h-1zM45 279h1v1h-1zM46 5h1v2h-1zM46 61h1v1h-1zM46 277h1v1h-1zM46 295h1v2h-1zM46 309h1v1h-1zM46 312h1v2h-1zM47 3h1v1h-1zM47 8h1v2h-1zM47 12h1v1h-1zM47 23h1v1h-1zM47 25h1v2h-1zM47 85h1v2h-1zM47 104h1v2h-1zM47 107h1v1h-1zM48 4h1v1h-1zM48 8h1v1h-1zM48 13h1v1h-1zM48 17h1v1h-1zM48 28h1v2h-1zM48 57h1v3h-1zM48 75h1v1h-1zM48 110h1v1h-1zM48 287h1v2h-1zM48 291h1v3h-1zM48 299h1v2h-1zM48 307h1v2h-1zM49 8h1v1h-1zM49 10h1v1h-1zM49 14h1v1h-1zM49 29h1v3h-1zM49 49h1v1h-1zM49 53h1v1h-1zM49 75h1v1h-1zM49 89h1v1h-1zM49 93h1v1h-1zM49 95h1v1h-1zM49 268h1v1h-1zM49 307h1v1h-1zM50 33h1v1h-1zM50 103h1v1h-1zM50 109h1v1h-1zM50 239h1v2h-1zM50 258h1v2h-1zM50 265h1v1h-1zM50 275h1v1h-1zM50 279h1v1h-1zM50 294h1v1h-1zM50 308h1v1h-1zM50 311h1v2h-1zM51 69h1v1h-1zM51 90h1v1h-1zM51 236h1v1h-1zM51 240h1v1h-1zM51 248h1v1h-1zM51 253h1v1h-1zM51 257h1v1h-1zM51 270h1v1h-1zM51 276h1v1h-1zM52 31h1v1h-1zM52 61h1v2h-1zM52 267h1v2h-1zM52 273h1v1h-1zM52 310h1v1h-1zM53 236h1v1h-1zM53 256h1v1h-1zM53 261h1v1h-1zM53 273h1v1h-1zM53 281h1v1h-1zM53 286h1v1h-1zM53 300h1v1h-1zM53 308h1v1h-1zM53 314h1v1h-1zM54 262h1v1h-1zM54 271h1v1h-1zM54 275h1v1h-1zM54 280h1v1h-1zM55 229h1v1h-1zM55 238h1v1h-1zM56 27h1v4h-1zM56 226h1v1h-1zM56 233h1v1h-1zM57 47h1v1h-1zM57 226h1v2h-1zM58 49h1v1h-1zM58 222h1v2h-1zM58 246h1v1h-1zM59 43h1v1h-1zM59 48h1v1h-1zM62 118h1v1h-1zM62 121h1v1h-1zM62 191h1v1h-1zM62 200h1v1h-1zM63 186h1v1h-1zM63 195h1v1h-1zM64 5h1v1h-1zM64 239h1v1h-1zM64 262h1v1h-1zM64 268h1v1h-1zM64 271h1v1h-1zM64 278h1v1h-1zM64 303h1v2h-1zM65 23h1v1h-1zM65 60h1v1h-1zM65 204h1v1h-1zM65 222h1v1h-1zM65 226h1v1h-1zM65 234h1v1h-1zM65 258h1v1h-1zM65 261h1v2h-1zM65 285h1v1h-1zM65 296h1v3h-1zM65 308h1v2h-1zM65 313h1v1h-1zM66 1h1v1h-1zM66 174h1v1h-1zM66 233h1v2h-1zM66 260h1v1h-1zM66 263h1v1h-1zM67 9h1v1h-1zM67 148h1v1h-1zM67 175h1v1h-1zM67 223h1v1h-1zM67 226h1v1h-1zM67 255h1v1h-1zM67 260h1v2h-1zM67 265h1v1h-1zM67 277h1v1h-1zM67 280h1v1h-1zM67 289h1v2h-1zM67 298h1v1h-1zM67 312h1v1h-1zM68 18h1v1h-1zM68 59h1v1h-1zM68 63h1v1h-1zM68 144h1v2h-1zM68 153h1v1h-1zM68 159h1v1h-1zM68 171h1v2h-1zM68 178h1v2h-1zM68 190h1v4h-1zM68 197h1v2h-1zM68 255h1v1h-1zM68 259h1v1h-1zM68 261h1v1h-1zM68 264h1v1h-1zM68 267h1v2h-1zM68 274h1v1h-1zM68 280h1v1h-1zM68 282h1v1h-1zM68 298h1v1h-1zM68 300h1v4h-1zM69 11h1v3h-1zM69 61h1v2h-1zM69 64h1v2h-1zM69 142h1v2h-1zM69 157h1v1h-1zM69 174h1v1h-1zM69 187h1v1h-1zM70 14h1v3h-1zM70 142h1v2h-1zM70 154h1v2h-1zM70 158h1v1h-1zM71 178h1v2h-1zM71 184h1v1h-1zM71 189h1v1h-1zM71 306h1v1h-1zM71 315h1v1h-1zM72 10h1v1h-1zM72 153h1v3h-1zM72 196h1v6h-1zM72 205h1v1h-1zM72 207h1v1h-1zM72 233h1v1h-1zM72 256h1v1h-1zM72 261h1v1h-1zM72 276h1v1h-1zM72 294h1v1h-1zM73 181h1v1h-1zM73 194h1v1h-1zM73 213h1v1h-1zM73 239h1v1h-1zM73 267h1v2h-1zM73 306h1v1h-1zM73 308h1v1h-1zM75 226h1v2h-1zM76 141h1v1h-1zM77 172h1v1h-1zM77 178h1v1h-1zM81 53h1v3h-1zM81 63h1v5h-1zM81 71h1v1h-1zM81 74h1v1h-1zM81 192h1v1h-1zM82 47h1v1h-1zM82 49h1v1h-1zM82 52h1v1h-1zM82 58h1v1h-1zM82 68h1v1h-1zM82 72h1v3h-1zM82 76h1v1h-1zM83 29h1v1h-1zM83 43h1v3h-1zM83 56h1v1h-1zM84 37h1v2h-1zM84 40h1v1h-1zM86 306h1v1h-1zM86 308h1v1h-1zM87 272h1v1h-1zM89 285h1v1h-1zM89 293h1v3h-1zM89 307h1v1h-1zM90 278h1v1h-1zM90 282h1v1h-1zM90 308h1v1h-1zM91 243h1v1h-1zM91 251h1v2h-1zM91 256h1v1h-1zM91 259h1v2h-1zM91 264h1v1h-1zM92 137h1v3h-1zM92 265h1v2h-1zM93 144h1v2h-1zM93 237h1v1h-1zM93 239h1v1h-1zM93 254h1v1h-1zM93 257h1v1h-1zM93 269h1v1h-1zM95 171h1v1h-1zM95 180h1v4h-1zM95 196h1v2h-1zM95 202h1v1h-1zM95 206h1v1h-1zM95 210h1v2h-1zM95 220h1v2h-1zM97 204h1v1h-1z"/>
<path fill="#ff1100" d="M39 46h1v2h-1zM40 254h1v1h-1zM41 254h1v3h-1zM42 27h1v2h-1zM42 31h1v1h-1zM42 33h1v1h-1zM42 42h1v1h-1zM42 46h1v1h-1zM42 255h1v1h-1zM42 258h1v2h-1zM42 279h1v2h-1zM42 287h1v1h-1zM42 304h1v1h-1zM43 43h1v1h-1zM43 242h1v1h-1zM43 246h1v1h-1zM43 252h1v2h-1zM43 271h1v2h-1zM43 275h1v1h-1zM43 280h1v2h-1zM44 9h1v2h-1zM44 51h1v1h-1zM44 90h1v1h-1zM44 238h1v1h-1zM44 249h1v1h-1zM44 253h1v1h-1zM44 261h1v1h-1zM44 268h1v1h-1zM44 274h1v2h-1zM45 1h1v1h-1zM45 20h1v5h-1zM45 29h1v1h-1zM45 58h1v1h-1zM45 68h1v1h-1zM46 48h1v1h-1zM46 50h1v1h-1zM46 85h1v1h-1zM46 276h1v1h-1zM46 302h1v1h-1zM46 305h1v4h-1zM47 11h1v1h-1zM47 18h1v1h-1zM47 94h1v1h-1zM47 106h1v1h-1zM48 5h1v3h-1zM48 11h1v2h-1zM48 105h1v1h-1zM48 107h1v1h-1zM49 7h1v1h-1zM49 11h1v1h-1zM49 13h1v1h-1zM49 50h1v3h-1zM49 109h1v1h-1zM49 265h1v1h-1zM49 269h1v1h-1zM49 273h1v1h-1zM50 32h1v1h-1zM50 104h1v5h-1zM50 234h1v1h-1zM50 244h1v1h-1zM50 254h1v4h-1zM50 264h1v1h-1zM50 266h1v1h-1zM50 276h1v1h-1zM50 278h1v1h-1zM50 289h1v1h-1zM50 299h1v1h-1zM50 302h1v4h-1zM50 307h1v1h-1zM50 313h1v1h-1zM51 92h1v1h-1zM51 237h1v1h-1zM51 244h1v1h-1zM51 247h1v1h-1zM51 271h1v1h-1zM51 274h1v2h-1zM51 300h1v1h-1zM52 243h1v3h-1zM52 264h1v1h-1zM52 269h1v1h-1zM52 272h1v1h-1zM52 274h1v1h-1zM52 278h1v1h-1zM52 295h1v1h-1zM53 235h1v1h-1zM53 255h1v1h-1zM53 262h1v2h-1zM53 285h1v1h-1zM53 301h1v2h-1zM54 227h1v1h-1zM54 229h1v1h-1zM54 236h1v1h-1zM54 279h1v1h-1zM55 237h1v1h-1zM57 222h1v1h-1zM57 225h1v1h-1zM57 241h1v1h-1zM58 48h1v1h-1zM60 203h1v1h-1zM60 209h1v1h-1zM60 212h1v1h-1zM62 199h1v1h-1zM63 193h1v2h-1zM64 2h1v1h-1zM64 4h1v1h-1zM64 185h1v1h-1zM64 189h1v1h-1zM64 238h1v1h-1zM64 263h1v1h-1zM64 267h1v1h-1zM64 272h1v1h-1zM64 275h1v3h-1zM64 305h1v4h-1zM65 64h1v2h-1zM65 176h1v1h-1zM65 182h1v2h-1zM65 259h1v2h-1zM65 290h1v1h-1zM65 301h1v1h-1zM65 307h1v1h-1zM65 310h1v1h-1zM66 65h1v1h-1zM66 175h1v2h-1zM66 261h1v2h-1zM66 313h1v1h-1zM67 149h1v1h-1zM67 154h1v1h-1zM67 161h1v1h-1zM67 174h1v1h-1zM67 177h1v2h-1zM67 180h1v1h-1zM67 224h1v2h-1zM67 256h1v1h-1zM67 258h1v2h-1zM67 262h1v3h-1zM67 271h1v1h-1zM67 276h1v1h-1zM67 281h1v1h-1zM67 291h1v5h-1zM67 311h1v1h-1zM68 146h1v2h-1zM68 152h1v1h-1zM68 160h1v1h-1zM68 194h1v3h-1zM68 256h1v1h-1zM68 258h1v1h-1zM68 262h1v2h-1zM68 281h1v1h-1zM68 299h1v1h-1zM69 144h1v2h-1zM70 1h1v1h-1zM70 12h1v2h-1zM70 144h1v1h-1zM70 147h1v1h-1zM70 159h1v1h-1zM70 164h1v1h-1zM71 176h1v2h-1zM71 260h1v2h-1zM71 305h1v1h-1zM71 307h1v2h-1zM72 162h1v1h-1zM72 178h1v1h-1zM72 191h1v5h-1zM72 202h1v3h-1zM72 208h1v4h-1zM72 214h1v2h-1zM72 229h1v1h-1zM72 235h1v1h-1zM72 242h1v1h-1zM72 246h1v1h-1zM72 257h1v4h-1zM72 280h1v2h-1zM72 287h1v1h-1zM72 291h1v1h-1zM72 293h1v1h-1zM72 307h1v1h-1zM73 199h1v6h-1zM73 212h1v1h-1zM73 216h1v4h-1zM73 237h1v2h-1zM73 307h1v1h-1zM76 142h1v4h-1zM77 173h1v1h-1zM81 72h1v2h-1zM81 187h1v1h-1zM81 193h1v1h-1zM82 48h1v1h-1zM82 53h1v1h-1zM82 57h1v1h-1zM82 75h1v1h-1zM82 183h1v1h-1zM82 186h1v3h-1zM83 42h1v1h-1zM83 51h1v1h-1zM83 196h1v1h-1zM84 39h1v1h-1zM86 307h1v1h-1zM87 273h1v1h-1zM88 123h1v1h-1zM89 278h1v1h-1zM89 280h1v3h-1zM89 301h1v1h-1zM89 306h1v1h-1zM90 281h1v1h-1zM90 312h1v1h-1zM91 257h1v2h-1zM91 261h1v1h-1zM91 263h1v1h-1zM93 137h1v1h-1zM93 238h1v1h-1zM93 255h1v2h-1zM95 166h1v1h-1zM95 170h1v1h-1zM95 203h1v2h-1zM95 207h1v3h-1zM95 214h1v5h-1zM96 167h1v1h-1zM96 169h1v1h-1z"/>
<path fill="#ff2200" d="M42 43h1v1h-1zM42 45h1v1h-1zM42 250h1v1h-1zM42 281h1v1h-1zM43 9h1v2h-1zM43 243h1v1h-1zM43 245h1v1h-1zM43 254h1v5h-1zM44 2h1v1h-1zM44 52h1v1h-1zM44 54h1v1h-1zM44 89h1v1h-1zM44 246h1v1h-1zM44 250h1v3h-1zM44 256h1v1h-1zM44 273h1v1h-1zM45 25h1v1h-1zM45 69h1v1h-1zM45 84h1v1h-1zM45 243h1v2h-1zM45 250h1v3h-1zM45 298h1v1h-1zM46 15h1v3h-1zM46 21h1v4h-1zM46 49h1v1h-1zM46 251h1v1h-1zM46 303h1v2h-1zM47 4h1v1h-1zM47 22h1v1h-1zM48 18h1v1h-1zM48 20h1v1h-1zM48 101h1v1h-1zM49 4h1v3h-1zM49 12h1v1h-1zM49 94h1v1h-1zM49 258h1v2h-1zM50 31h1v1h-1zM50 74h1v1h-1zM50 245h1v1h-1zM50 247h1v2h-1zM50 250h1v4h-1zM50 260h1v1h-1zM50 277h1v1h-1zM50 293h1v1h-1zM50 300h1v2h-1zM50 306h1v1h-1zM50 314h1v1h-1zM51 91h1v1h-1zM51 238h1v2h-1zM51 245h1v2h-1zM51 254h1v1h-1zM51 256h1v1h-1zM51 273h1v1h-1zM51 301h1v1h-1zM52 265h1v2h-1zM52 270h1v2h-1zM52 277h1v1h-1zM52 311h1v1h-1zM53 254h1v1h-1zM53 264h1v1h-1zM53 267h1v1h-1zM53 274h1v1h-1zM53 282h1v1h-1zM53 284h1v1h-1zM53 303h1v1h-1zM53 307h1v1h-1zM54 228h1v1h-1zM54 272h1v3h-1zM55 230h1v1h-1zM55 233h1v4h-1zM56 227h1v1h-1zM56 232h1v1h-1zM57 223h1v2h-1zM58 47h1v1h-1zM60 207h1v2h-1zM60 210h1v1h-1zM61 199h1v5h-1zM61 206h1v1h-1zM64 3h1v1h-1zM64 264h1v3h-1zM64 273h1v2h-1zM65 181h1v1h-1zM65 235h1v1h-1zM65 241h1v3h-1zM65 286h1v1h-1zM65 311h1v1h-1zM66 16h1v1h-1zM66 177h1v1h-1zM67 150h1v1h-1zM67 155h1v1h-1zM67 159h1v2h-1zM67 179h1v1h-1zM67 257h1v1h-1zM67 272h1v1h-1zM67 282h1v2h-1zM67 296h1v2h-1zM68 151h1v1h-1zM68 161h1v2h-1zM68 257h1v1h-1zM69 9h1v1h-1zM69 155h1v2h-1zM69 230h1v4h-1zM70 10h1v2h-1zM70 145h1v2h-1zM71 248h1v3h-1zM71 259h1v1h-1zM71 295h1v3h-1zM71 309h1v2h-1zM72 179h1v1h-1zM72 190h1v1h-1zM72 212h1v2h-1zM72 219h1v1h-1zM72 230h1v1h-1zM72 232h1v1h-1zM72 240h1v2h-1zM72 243h1v3h-1zM72 277h1v3h-1zM72 282h1v1h-1zM72 292h1v1h-1zM72 308h1v7h-1zM73 182h1v1h-1zM73 187h1v1h-1zM73 195h1v4h-1zM73 205h1v1h-1zM73 210h1v2h-1zM73 220h1v1h-1zM73 224h1v2h-1zM73 228h1v3h-1zM74 144h1v1h-1zM77 174h1v2h-1zM78 112h1v1h-1zM81 191h1v1h-1zM81 194h1v1h-1zM81 197h1v1h-1zM82 54h1v1h-1zM82 56h1v1h-1zM82 69h1v3h-1zM82 184h1v2h-1zM82 194h1v1h-1zM83 30h1v1h-1zM83 40h1v2h-1zM83 46h1v1h-1zM83 50h1v1h-1zM83 52h1v1h-1zM83 55h1v1h-1zM83 185h1v1h-1zM83 190h1v2h-1zM89 279h1v1h-1zM89 283h1v2h-1zM89 302h1v1h-1zM90 279h1v2h-1zM91 262h1v1h-1zM95 167h1v1h-1zM95 219h1v1h-1zM96 168h1v1h-1z"/>
<path fill="#ff3300" d="M42 44h1v1h-1zM42 251h1v4h-1zM42 282h1v1h-1zM42 286h1v1h-1zM43 2h1v1h-1zM43 4h1v5h-1zM43 244h1v1h-1zM43 308h1v1h-1zM44 1h1v1h-1zM44 30h1v1h-1zM44 53h1v1h-1zM44 239h1v1h-1zM44 260h1v1h-1zM44 269h1v1h-1zM45 3h1v1h-1zM45 10h1v1h-1zM45 57h1v1h-1zM45 83h1v1h-1zM45 239h1v1h-1zM45 245h1v1h-1zM45 249h1v1h-1zM45 275h1v1h-1zM45 297h1v1h-1zM45 299h1v4h-1zM45 309h1v2h-1zM46 14h1v1h-1zM46 18h1v3h-1zM46 26h1v1h-1zM46 30h1v1h-1zM46 250h1v1h-1zM47 239h1v1h-1zM48 19h1v1h-1zM48 234h1v1h-1zM49 238h1v1h-1zM49 257h1v1h-1zM49 270h1v1h-1zM50 62h1v1h-1zM50 233h1v1h-1zM50 246h1v1h-1zM50 261h1v1h-1zM50 263h1v1h-1zM50 267h1v1h-1zM50 290h1v1h-1zM50 292h1v1h-1zM51 255h1v1h-1zM51 295h1v1h-1zM51 302h1v1h-1zM51 309h1v1h-1zM52 259h1v1h-1zM52 275h1v2h-1zM53 265h1v2h-1zM53 275h1v2h-1zM53 283h1v1h-1zM53 304h1v3h-1zM54 237h1v1h-1zM55 231h1v2h-1zM56 231h1v1h-1zM58 45h1v1h-1zM59 44h1v1h-1zM60 211h1v1h-1zM61 204h1v2h-1zM62 197h1v2h-1zM64 186h1v1h-1zM65 7h1v2h-1zM65 22h1v1h-1zM65 177h1v1h-1zM65 238h1v3h-1zM65 302h1v1h-1zM65 306h1v1h-1zM65 312h1v1h-1zM66 61h1v2h-1zM66 178h1v2h-1zM67 151h1v1h-1zM67 153h1v1h-1zM67 156h1v1h-1zM67 158h1v1h-1zM67 162h1v1h-1zM67 273h1v1h-1zM67 275h1v1h-1zM68 62h1v1h-1zM68 154h1v1h-1zM69 3h1v3h-1zM69 229h1v1h-1zM69 246h1v1h-1zM70 5h1v1h-1zM71 217h1v3h-1zM71 233h1v2h-1zM71 245h1v3h-1zM71 256h1v3h-1zM71 262h1v1h-1zM71 267h1v5h-1zM71 281h1v1h-1zM71 287h1v1h-1zM71 298h1v2h-1zM71 304h1v1h-1zM72 180h1v1h-1zM72 183h1v4h-1zM72 216h1v1h-1zM72 231h1v1h-1zM72 236h1v1h-1zM72 239h1v1h-1zM72 283h1v1h-1zM72 286h1v1h-1zM73 206h1v1h-1zM73 208h1v2h-1zM73 221h1v3h-1zM73 226h1v2h-1zM73 231h1v2h-1zM74 142h1v2h-1zM79 112h1v1h-1zM81 195h1v2h-1zM82 55h1v1h-1zM82 189h1v1h-1zM82 193h1v1h-1zM82 195h1v1h-1zM82 198h1v1h-1zM83 47h1v1h-1zM83 49h1v1h-1zM83 53h1v2h-1zM83 189h1v1h-1zM87 123h1v1h-1zM90 309h1v1h-1zM90 311h1v1h-1zM95 169h1v1h-1z"/>
<path fill="#ff4400" d="M42 283h1v3h-1zM43 1h1v1h-1zM43 3h1v1h-1zM44 257h1v1h-1zM44 270h1v1h-1zM44 280h1v1h-1zM45 2h1v1h-1zM45 4h1v2h-1zM45 55h1v2h-1zM45 242h1v1h-1zM45 246h1v3h-1zM45 296h1v1h-1zM45 303h1v1h-1zM46 25h1v1h-1zM46 27h1v2h-1zM46 33h1v1h-1zM46 57h1v2h-1zM46 239h1v1h-1zM46 249h1v1h-1zM47 5h1v1h-1zM47 19h1v1h-1zM47 21h1v1h-1zM49 101h1v1h-1zM49 251h1v6h-1zM49 260h1v1h-1zM49 264h1v1h-1zM49 271h1v2h-1zM50 249h1v1h-1zM50 262h1v1h-1zM50 269h1v1h-1zM50 291h1v1h-1zM52 254h1v1h-1zM52 309h1v1h-1zM52 314h1v1h-1zM54 238h1v2h-1zM56 228h1v1h-1zM56 230h1v1h-1zM58 46h1v1h-1zM59 47h1v1h-1zM60 204h1v1h-1zM60 206h1v1h-1zM62 192h1v1h-1zM62 196h1v1h-1zM64 187h1v2h-1zM65 6h1v1h-1zM65 180h1v1h-1zM65 236h1v1h-1zM65 287h1v1h-1zM65 289h1v1h-1zM65 303h1v3h-1zM66 180h1v1h-1zM67 152h1v1h-1zM67 157h1v1h-1zM67 274h1v1h-1zM68 155h1v2h-1zM69 2h1v1h-1zM69 6h1v1h-1zM69 8h1v1h-1zM69 154h1v1h-1zM69 188h1v1h-1zM69 234h1v1h-1zM69 243h1v1h-1zM69 247h1v1h-1zM69 283h1v1h-1zM70 4h1v1h-1zM70 6h1v1h-1zM71 220h1v2h-1zM71 232h1v1h-1zM71 252h1v4h-1zM71 263h1v1h-1zM71 266h1v1h-1zM71 272h1v9h-1zM71 282h1v2h-1zM71 286h1v1h-1zM71 288h1v1h-1zM71 294h1v1h-1zM71 300h1v1h-1zM71 311h1v1h-1zM72 163h1v1h-1zM72 181h1v2h-1zM72 187h1v3h-1zM72 217h1v2h-1zM72 237h1v2h-1zM72 284h1v2h-1zM73 183h1v1h-1zM73 186h1v1h-1zM73 207h1v1h-1zM73 233h1v2h-1zM73 236h1v1h-1zM77 136h1v2h-1zM81 188h1v1h-1zM81 190h1v1h-1zM81 198h1v1h-1zM82 192h1v1h-1zM82 196h1v1h-1zM83 48h1v1h-1zM83 192h1v2h-1zM83 195h1v1h-1zM89 304h1v2h-1zM90 310h1v1h-1zM95 168h1v1h-1z"/>
<path fill="#ff5500" d="M43 278h1v1h-1zM44 245h1v1h-1zM44 258h1v2h-1zM44 271h1v2h-1zM44 276h1v1h-1zM44 279h1v1h-1zM45 6h1v2h-1zM45 9h1v1h-1zM45 26h1v1h-1zM45 30h1v1h-1zM45 255h1v1h-1zM45 263h1v2h-1zM45 281h1v6h-1zM45 294h1v2h-1zM45 304h1v1h-1zM45 311h1v1h-1zM46 32h1v1h-1zM46 39h1v1h-1zM46 44h1v2h-1zM46 55h1v2h-1zM46 248h1v1h-1zM46 252h1v1h-1zM47 20h1v1h-1zM47 244h1v1h-1zM48 10h1v1h-1zM49 108h1v1h-1zM49 236h1v2h-1zM49 239h1v1h-1zM49 250h1v1h-1zM50 63h1v1h-1zM50 73h1v1h-1zM50 268h1v1h-1zM51 303h1v1h-1zM52 300h1v7h-1zM52 312h1v2h-1zM54 277h1v1h-1zM56 229h1v1h-1zM60 205h1v1h-1zM62 193h1v3h-1zM65 9h1v1h-1zM65 178h1v2h-1zM65 288h1v1h-1zM66 10h1v3h-1zM68 60h1v2h-1zM69 7h1v1h-1zM69 151h1v1h-1zM69 153h1v1h-1zM69 214h1v1h-1zM69 221h1v3h-1zM69 228h1v1h-1zM69 242h1v1h-1zM69 248h1v2h-1zM69 258h1v2h-1zM69 273h1v2h-1zM69 282h1v1h-1zM69 284h1v1h-1zM69 298h1v3h-1zM70 3h1v1h-1zM70 7h1v1h-1zM70 9h1v1h-1zM70 189h1v1h-1zM71 222h1v1h-1zM71 244h1v1h-1zM71 264h1v2h-1zM71 284h1v2h-1zM71 303h1v1h-1zM71 312h1v1h-1zM73 184h1v2h-1zM73 235h1v1h-1zM81 189h1v1h-1zM82 190h1v2h-1zM82 197h1v1h-1zM83 39h1v1h-1zM83 194h1v1h-1zM89 303h1v1h-1z"/>
<path fill="#ff6600" d="M43 76h1v1h-1zM44 240h1v1h-1zM44 293h1v2h-1zM44 298h1v1h-1zM44 310h1v1h-1zM45 8h1v1h-1zM45 27h1v1h-1zM45 240h1v2h-1zM45 262h1v1h-1zM45 265h1v1h-1zM45 272h1v1h-1zM45 276h1v1h-1zM45 287h1v5h-1zM45 293h1v1h-1zM45 308h1v1h-1zM46 31h1v1h-1zM46 34h1v1h-1zM46 40h1v1h-1zM46 46h1v1h-1zM46 242h1v6h-1zM47 10h1v1h-1zM47 275h1v1h-1zM47 303h1v1h-1zM48 74h1v1h-1zM49 72h1v2h-1zM49 104h1v1h-1zM49 233h1v1h-1zM49 235h1v1h-1zM49 240h1v1h-1zM49 247h1v3h-1zM49 261h1v1h-1zM49 263h1v1h-1zM50 64h1v1h-1zM51 308h1v1h-1zM52 307h1v2h-1zM53 277h1v1h-1zM59 45h1v1h-1zM65 5h1v1h-1zM65 10h1v1h-1zM65 21h1v1h-1zM66 2h1v1h-1zM66 13h1v3h-1zM66 287h1v2h-1zM69 152h1v1h-1zM69 189h1v1h-1zM69 196h1v2h-1zM69 215h1v1h-1zM69 224h1v1h-1zM69 226h1v2h-1zM69 244h1v1h-1zM69 250h1v1h-1zM69 257h1v1h-1zM69 260h1v1h-1zM69 272h1v1h-1zM69 275h1v1h-1zM69 281h1v1h-1zM69 297h1v1h-1zM69 314h1v1h-1zM70 2h1v1h-1zM70 8h1v1h-1zM70 242h1v1h-1zM70 249h1v1h-1zM71 223h1v1h-1zM71 231h1v1h-1zM71 235h1v1h-1zM71 241h1v3h-1zM71 289h1v1h-1zM71 293h1v1h-1zM71 301h1v2h-1zM83 32h1v1h-1zM83 186h1v1h-1zM83 188h1v1h-1z"/>
<path fill="#ff7700" d="M44 31h1v1h-1zM44 241h1v1h-1zM44 244h1v1h-1zM44 286h1v2h-1zM44 292h1v1h-1zM44 295h1v1h-1zM44 297h1v1h-1zM44 299h1v1h-1zM44 309h1v1h-1zM44 311h1v1h-1zM45 28h1v1h-1zM45 31h1v1h-1zM45 47h1v1h-1zM45 270h1v2h-1zM45 273h1v2h-1zM45 292h1v1h-1zM45 305h1v1h-1zM45 307h1v1h-1zM45 312h1v3h-1zM46 38h1v1h-1zM46 41h1v1h-1zM46 43h1v1h-1zM46 240h1v2h-1zM47 243h1v1h-1zM48 72h1v2h-1zM48 102h1v3h-1zM48 109h1v1h-1zM49 74h1v1h-1zM49 234h1v1h-1zM49 262h1v1h-1zM50 65h1v2h-1zM50 72h1v1h-1zM50 270h1v1h-1zM51 304h1v1h-1zM51 307h1v1h-1zM52 288h1v1h-1zM53 278h1v1h-1zM57 240h1v1h-1zM59 46h1v1h-1zM65 2h1v1h-1zM65 12h1v1h-1zM66 3h1v1h-1zM66 9h1v1h-1zM66 286h1v1h-1zM69 190h1v6h-1zM69 220h1v1h-1zM69 225h1v1h-1zM69 241h1v1h-1zM69 261h1v1h-1zM69 270h1v2h-1zM69 276h1v2h-1zM69 280h1v1h-1zM69 285h1v1h-1zM69 301h1v1h-1zM69 311h1v2h-1zM70 243h1v1h-1zM70 248h1v1h-1zM70 250h1v3h-1zM70 259h1v3h-1zM70 273h1v2h-1zM70 296h1v2h-1zM71 224h1v1h-1zM71 230h1v1h-1zM71 313h1v1h-1zM81 199h1v1h-1zM83 31h1v1h-1zM83 33h1v2h-1zM83 187h1v1h-1z"/>
<path fill="#ff8800" d="M43 78h1v1h-1zM44 32h1v1h-1zM44 242h1v2h-1zM44 284h1v2h-1zM44 288h1v4h-1zM44 296h1v1h-1zM44 304h1v5h-1zM44 312h1v1h-1zM44 314h1v1h-1zM45 253h1v1h-1zM45 261h1v1h-1zM45 266h1v1h-1zM45 269h1v1h-1zM45 306h1v1h-1zM46 35h1v1h-1zM46 42h1v1h-1zM46 98h1v1h-1zM46 275h1v1h-1zM47 240h1v1h-1zM47 242h1v1h-1zM47 277h1v1h-1zM48 286h1v1h-1zM49 103h1v1h-1zM50 67h1v4h-1zM51 272h1v1h-1zM51 288h1v1h-1zM51 305h1v2h-1zM65 3h1v2h-1zM65 11h1v1h-1zM65 17h1v2h-1zM65 20h1v1h-1zM66 4h1v1h-1zM66 281h1v1h-1zM66 289h1v1h-1zM66 293h1v4h-1zM66 310h1v3h-1zM69 198h1v1h-1zM69 205h1v1h-1zM69 216h1v1h-1zM69 219h1v1h-1zM69 235h1v1h-1zM69 251h1v1h-1zM69 256h1v1h-1zM69 262h1v6h-1zM69 269h1v1h-1zM69 278h1v2h-1zM69 296h1v1h-1zM69 302h1v1h-1zM69 310h1v1h-1zM69 313h1v1h-1zM70 241h1v1h-1zM70 244h1v4h-1zM70 253h1v1h-1zM70 258h1v1h-1zM70 262h1v5h-1zM70 270h1v3h-1zM70 275h1v2h-1zM70 284h1v2h-1zM70 295h1v1h-1zM70 298h1v1h-1zM70 303h1v4h-1zM70 312h1v1h-1zM70 314h1v1h-1zM71 229h1v1h-1zM71 240h1v1h-1zM71 290h1v1h-1zM71 292h1v1h-1zM71 314h1v1h-1zM83 35h1v1h-1z"/>
<path fill="#ff9900" d="M43 77h1v1h-1zM44 46h1v2h-1zM44 283h1v1h-1zM44 300h1v1h-1zM44 303h1v1h-1zM44 313h1v1h-1zM45 46h1v1h-1zM45 256h1v1h-1zM45 260h1v1h-1zM45 267h1v2h-1zM46 36h1v2h-1zM46 47h1v1h-1zM47 7h1v1h-1zM47 92h1v1h-1zM47 241h1v1h-1zM49 102h1v1h-1zM50 1h1v1h-1zM50 71h1v1h-1zM51 289h1v4h-1zM52 258h1v1h-1zM52 289h1v1h-1zM52 294h1v1h-1zM54 278h1v1h-1zM65 19h1v1h-1zM65 244h1v1h-1zM66 5h1v1h-1zM66 290h1v1h-1zM66 292h1v1h-1zM66 309h1v1h-1zM69 204h1v1h-1zM69 206h1v1h-1zM69 211h1v1h-1zM69 217h1v2h-1zM69 240h1v1h-1zM69 245h1v1h-1zM69 252h1v1h-1zM69 255h1v1h-1zM69 268h1v1h-1zM69 295h1v1h-1zM69 309h1v1h-1zM70 254h1v1h-1zM70 257h1v1h-1zM70 283h1v1h-1zM70 287h1v2h-1zM70 299h1v1h-1zM70 302h1v1h-1zM70 307h1v1h-1zM70 311h1v1h-1zM70 313h1v1h-1zM71 225h1v1h-1zM71 228h1v1h-1zM71 236h1v1h-1zM71 239h1v1h-1zM71 291h1v1h-1zM83 36h1v3h-1z"/>
<path fill="#ffaa00" d="M44 33h1v1h-1zM44 281h1v2h-1zM44 301h1v2h-1zM47 6h1v1h-1zM47 93h1v1h-1zM49 1h1v1h-1zM49 60h1v1h-1zM49 314h1v1h-1zM51 293h1v2h-1zM52 255h1v3h-1zM52 292h1v2h-1zM53 270h1v1h-1zM65 13h1v2h-1zM66 6h1v3h-1zM66 282h1v1h-1zM66 285h1v1h-1zM66 297h1v4h-1zM69 199h1v1h-1zM69 203h1v1h-1zM69 207h1v1h-1zM69 213h1v1h-1zM69 236h1v1h-1zM69 253h1v2h-1zM69 287h1v5h-1zM69 303h1v1h-1zM70 255h1v2h-1zM70 277h1v1h-1zM70 282h1v1h-1zM70 289h1v1h-1zM70 294h1v1h-1zM70 300h1v2h-1zM70 308h1v1h-1zM70 310h1v1h-1zM71 216h1v1h-1zM71 226h1v2h-1zM71 251h1v1h-1z"/>
<path fill="#ffbb00" d="M44 35h1v1h-1zM45 257h1v1h-1zM45 259h1v1h-1zM47 289h1v2h-1zM47 294h1v3h-1zM48 60h1v1h-1zM49 246h1v1h-1zM49 308h1v1h-1zM50 2h1v1h-1zM50 271h1v1h-1zM52 290h1v2h-1zM53 268h1v2h-1zM65 15h1v1h-1zM66 284h1v1h-1zM66 301h1v1h-1zM66 304h1v3h-1zM66 308h1v1h-1zM69 200h1v1h-1zM69 202h1v1h-1zM69 208h1v1h-1zM69 210h1v1h-1zM69 237h1v1h-1zM69 239h1v1h-1zM69 292h1v1h-1zM69 294h1v1h-1zM69 304h1v5h-1zM70 231h1v1h-1zM70 267h1v1h-1zM70 278h1v1h-1zM70 281h1v1h-1zM70 286h1v1h-1zM70 290h1v4h-1zM70 309h1v1h-1zM71 190h1v1h-1zM71 208h1v2h-1zM71 215h1v1h-1zM71 237h1v2h-1z"/>
<path fill="#ffcc00" d="M44 34h1v1h-1zM44 36h1v5h-1zM45 258h1v1h-1zM45 278h1v1h-1zM47 281h1v3h-1zM47 288h1v1h-1zM47 291h1v3h-1zM47 297h1v6h-1zM49 2h1v1h-1zM50 3h1v1h-1zM65 16h1v1h-1zM66 283h1v1h-1zM66 302h1v2h-1zM66 307h1v1h-1zM69 201h1v1h-1zM69 209h1v1h-1zM69 212h1v1h-1zM69 238h1v1h-1zM69 286h1v1h-1zM69 293h1v1h-1zM70 232h1v1h-1zM70 268h1v2h-1zM70 279h1v2h-1zM71 210h1v1h-1zM71 214h1v1h-1z"/>
<path fill="#ffdd00" d="M44 41h1v1h-1zM44 44h1v2h-1zM44 278h1v1h-1zM45 254h1v1h-1zM47 280h1v1h-1zM47 284h1v1h-1zM47 287h1v1h-1zM49 3h1v1h-1zM70 160h1v1h-1zM70 194h1v1h-1zM70 196h1v9h-1zM70 212h1v4h-1zM70 221h1v3h-1zM70 230h1v1h-1zM70 233h1v1h-1zM70 240h1v1h-1zM71 201h1v2h-1z"/>
<path fill="#ffee00" d="M44 42h1v2h-1zM46 255h1v2h-1zM47 245h1v1h-1zM47 252h1v2h-1zM47 278h1v2h-1zM47 285h1v2h-1zM49 71h1v1h-1zM66 291h1v1h-1zM70 190h1v4h-1zM70 195h1v1h-1zM70 205h1v1h-1zM70 216h1v1h-1zM70 219h1v2h-1zM70 224h1v2h-1zM70 229h1v1h-1zM70 239h1v1h-1zM71 191h1v1h-1zM71 198h1v3h-1zM71 207h1v1h-1zM71 211h1v3h-1z"/>
<path fill="#ffff00" d="M45 32h1v1h-1zM46 257h1v1h-1zM46 273h1v2h-1zM47 246h1v2h-1zM47 251h1v1h-1zM48 71h1v1h-1zM48 275h1v1h-1zM70 163h1v1h-1zM70 206h1v3h-1zM70 211h1v1h-1zM70 217h1v2h-1zM70 226h1v3h-1zM70 234h1v5h-1zM71 196h1v2h-1zM71 203h1v4h-1z"/>
<path fill="#ffff1a" d="M46 267h1v6h-1zM47 248h1v3h-1zM48 61h1v5h-1zM48 70h1v1h-1zM48 108h1v1h-1zM48 235h1v1h-1zM48 274h1v1h-1zM48 277h1v2h-1zM48 281h1v3h-1zM49 64h1v2h-1zM49 69h1v2h-1zM49 241h1v5h-1zM49 312h1v2h-1zM70 162h1v1h-1zM70 209h1v2h-1zM71 192h1v1h-1zM71 195h1v1h-1z"/>
<path fill="#ffff33" d="M45 33h1v1h-1zM45 38h1v1h-1zM45 45h1v1h-1zM46 264h1v3h-1zM47 274h1v1h-1zM48 279h1v2h-1zM48 284h1v1h-1zM49 61h1v3h-1zM49 66h1v3h-1zM49 311h1v1h-1zM70 161h1v1h-1zM71 193h1v2h-1z"/>
<path fill="#ffff4c" d="M44 277h1v1h-1zM45 34h1v4h-1zM45 40h1v2h-1zM46 260h1v4h-1zM47 254h1v1h-1zM47 271h1v3h-1zM48 66h1v4h-1zM48 261h1v2h-1zM48 285h1v1h-1zM49 309h1v2h-1z"/>
<path fill="#ffff66" d="M45 39h1v1h-1zM45 42h1v2h-1zM45 277h1v1h-1zM46 258h1v2h-1zM47 259h1v1h-1zM47 264h1v1h-1zM47 266h1v5h-1zM48 260h1v1h-1zM48 263h1v1h-1zM48 273h1v1h-1z"/>
<path fill="#ffff80" d="M45 44h1v1h-1zM47 255h1v1h-1zM47 258h1v1h-1zM48 236h1v1h-1zM48 250h1v6h-1zM48 259h1v1h-1zM48 264h1v5h-1zM48 272h1v1h-1zM48 276h1v1h-1z"/>
<path fill="#ffff99" d="M46 253h1v1h-1zM47 256h1v2h-1zM48 237h1v2h-1zM48 256h1v3h-1zM48 269h1v3h-1z"/>
<path fill="#ffffb3" d="M46 254h1v1h-1zM47 260h1v4h-1zM48 239h1v2h-1zM48 247h1v3h-1z"/>
<path fill="#ffffcc" d="M47 265h1v1h-1zM48 245h1v2h-1z"/>
<path fill="#ffffe5" d="M48 241h1v4h-1z"/>
</g></g></g>
<rect x="280.2" y="258.5" width="10" height="2" fill="#262626"/>
<rect x="1535.6" y="258.5" width="10" height="2" fill="#262626"/>
<rect x="280.2" y="470.0" width="10" height="2" fill="#262626"/>
<rect x="1535.6" y="470.0" width="10" height="2" fill="#262626"/>
<rect x="280.2" y="681.7" width="10" height="2" fill="#262626"/>
<rect x="1535.6" y="681.7" width="10" height="2" fill="#262626"/>
<rect x="280.2" y="893.3" width="10" height="2" fill="#262626"/>
<rect x="1535.6" y="893.3" width="10" height="2" fill="#262626"/>
<rect x="280.2" y="1104.9" width="10" height="2" fill="#262626"/>
<rect x="1535.6" y="1104.9" width="10" height="2" fill="#262626"/>
<rect x="699.7" y="56.0" width="2" height="10" fill="#262626"/>
<rect x="699.7" y="1304.9" width="2" height="10" fill="#262626"/>
<rect x="1123.4" y="56.0" width="2" height="10" fill="#262626"/>
<rect x="1123.4" y="1304.9" width="2" height="10" fill="#262626"/>
<rect x="275.3" y="51.2" width="1.9" height="1266.7" fill="#d4d4d4"/>
<rect x="275.3" y="51.2" width="1273.3" height="1.8" fill="#d9d9d9"/>
<rect x="277.2" y="53.0" width="1.6" height="1264.9" fill="#2b2b2b"/>
<rect x="277.2" y="53.0" width="1271.3999999999999" height="2" fill="#333333" opacity="0.9"/>
<defs><filter id="sb" x="-5%" y="-5%" width="110%" height="110%" color-interpolation-filters="sRGB"><feGaussianBlur stdDeviation="0.75"/></filter></defs>
<g filter="url(#sb)">
<rect x="595" y="911.6" width="407.2" height="393" fill="none" stroke="#00b1f1" stroke-width="8"/>
<polygon points="741,908.5 753.8,906 643,650 618.5,650" fill="#00b1f1"/>
<polygon points="612,607.5 660,649.5 609,672.5" fill="#00b1f1"/>
<text transform="scale(0.95 1)" font-family='"Liberation Sans", "DejaVu Sans", sans-serif' font-size="85" fill="#00b1f1" stroke="#000" stroke-width="0.9" y="571" x="467.9 535.1 571.8 625.9 664.2 727.4">Pistol</text>
</g>
<defs><linearGradient id="hot" x1="0" y1="0" x2="0" y2="1"><stop offset="0" stop-color="#ffffff"/><stop offset="0.25" stop-color="#ffff00"/><stop offset="0.625" stop-color="#ff0000"/><stop offset="0.665" stop-color="#fa0000"/><stop offset="0.714" stop-color="#dc0000"/><stop offset="0.857" stop-color="#700000"/><stop offset="1" stop-color="#000000"/></linearGradient></defs>
<rect x="1637.2" y="54.2" width="77.59999999999991" height="1263.7" fill="url(#hot)" stroke="#262626" stroke-width="2"/>
<rect x="1704.8" y="233.1" width="10" height="2" fill="#1a1a1a"/>
<rect x="1704.8" y="414.0" width="10" height="2" fill="#1a1a1a"/>
<rect x="1704.8" y="594.9" width="10" height="2" fill="#1a1a1a"/>
<rect x="1704.8" y="775.8" width="10" height="2" fill="#1a1a1a"/>
<rect x="1704.8" y="956.7" width="10" height="2" fill="#1a1a1a"/>
<rect x="1704.8" y="1137.6" width="10" height="2" fill="#1a1a1a"/>
<text transform="translate(254.0 81.6) scale(0.98 1)" font-family='"Liberation Serif", "DejaVu Serif", serif' font-size="80" text-anchor="end" fill="#111" stroke="#fff" stroke-width="1.1" >0.3</text>
<text transform="translate(254.0 289.6) scale(0.98 1)" font-family='"Liberation Serif", "DejaVu Serif", serif' font-size="80" text-anchor="end" fill="#111" stroke="#fff" stroke-width="1.1" >0.2</text>
<text transform="translate(254.0 501.0) scale(0.98 1)" font-family='"Liberation Serif", "DejaVu Serif", serif' font-size="80" text-anchor="end" fill="#111" stroke="#fff" stroke-width="1.1" >0.1</text>
<text transform="translate(254.0 712.6) scale(0.98 1)" font-family='"Liberation Serif", "DejaVu Serif", serif' font-size="80" text-anchor="end" fill="#111" stroke="#fff" stroke-width="1.1" >0</text>
<text transform="translate(254.0 924.0) scale(0.98 1)" font-family='"Liberation Serif", "DejaVu Serif", serif' font-size="80" text-anchor="end" fill="#111" stroke="#fff" stroke-width="1.1" >-0.1</text>
<text transform="translate(254.0 1135.6) scale(0.98 1)" font-family='"Liberation Serif", "DejaVu Serif", serif' font-size="80" text-anchor="end" fill="#111" stroke="#fff" stroke-width="1.1" >-0.2</text>
<text transform="translate(254.0 1347.2) scale(0.98 1)" font-family='"Liberation Serif", "DejaVu Serif", serif' font-size="80" text-anchor="end" fill="#111" stroke="#fff" stroke-width="1.1" >-0.3</text>
<text transform="translate(278.8 1414.6) scale(0.99 1)" font-family='"Liberation Serif", "DejaVu Serif", serif' font-size="80" text-anchor="middle" fill="#111" stroke="#fff" stroke-width="1.1" >0.2</text>
<text transform="translate(701.0 1414.6) scale(0.99 1)" font-family='"Liberation Serif", "DejaVu Serif", serif' font-size="80" text-anchor="middle" fill="#111" stroke="#fff" stroke-width="1.1" >0.4</text>
<text transform="translate(1123.2 1414.6) scale(0.99 1)" font-family='"Liberation Serif", "DejaVu Serif", serif' font-size="80" text-anchor="middle" fill="#111" stroke="#fff" stroke-width="1.1" >0.6</text>
<text transform="translate(1545.6 1414.6) scale(0.99 1)" font-family='"Liberation Serif", "DejaVu Serif", serif' font-size="80" text-anchor="middle" fill="#111" stroke="#fff" stroke-width="1.1" >0.8</text>
<text transform="translate(912.5 1512.6) scale(1.0 1)" font-family='"Liberation Serif", "DejaVu Serif", serif' font-size="85" text-anchor="middle" fill="#111" stroke="#fff" stroke-width="1.1" >z(m)</text>
<text transform="translate(98.9 686.4) rotate(-90)" font-family='"Liberation Serif", "DejaVu Serif", serif' font-size="85" text-anchor="middle" fill="#111" stroke="#fff" stroke-width="1.1">y(m)</text>
<text transform="translate(1737.8 78.0) scale(1.0 1)" font-family='"Liberation Serif", "DejaVu Serif", serif' font-size="69" text-anchor="start" fill="#111" stroke="#fff" stroke-width="1.1" >0</text>
<text transform="translate(1737.8 258.8) scale(1.0 1)" font-family='"Liberation Serif", "DejaVu Serif", serif' font-size="69" text-anchor="start" fill="#111" stroke="#fff" stroke-width="1.1" >-5</text>
<text transform="translate(1737.8 439.8) scale(1.0 1)" font-family='"Liberation Serif", "DejaVu Serif", serif' font-size="69" text-anchor="start" fill="#111" stroke="#fff" stroke-width="1.1" >-10</text>
<text transform="translate(1737.8 620.8) scale(1.0 1)" font-family='"Liberation Serif", "DejaVu Serif", serif' font-size="69" text-anchor="start" fill="#111" stroke="#fff" stroke-width="1.1" >-15</text>
<text transform="translate(1737.8 801.8) scale(1.0 1)" font-family='"Liberation Serif", "DejaVu Serif", serif' font-size="69" text-anchor="start" fill="#111" stroke="#fff" stroke-width="1.1" >-20</text>
<text transform="translate(1737.8 982.8) scale(1.0 1)" font-family='"Liberation Serif", "DejaVu Serif", serif' font-size="69" text-anchor="start" fill="#111" stroke="#fff" stroke-width="1.1" >-25</text>
<text transform="translate(1737.8 1164.0) scale(1.0 1)" font-family='"Liberation Serif", "DejaVu Serif", serif' font-size="69" text-anchor="start" fill="#111" stroke="#fff" stroke-width="1.1" >-30</text>
<text transform="translate(1737.8 1345.2) scale(1.0 1)" font-family='"Liberation Serif", "DejaVu Serif", serif' font-size="69" text-anchor="start" fill="#111" stroke="#fff" stroke-width="1.1" >-35</text>
</svg>
</body></html>
